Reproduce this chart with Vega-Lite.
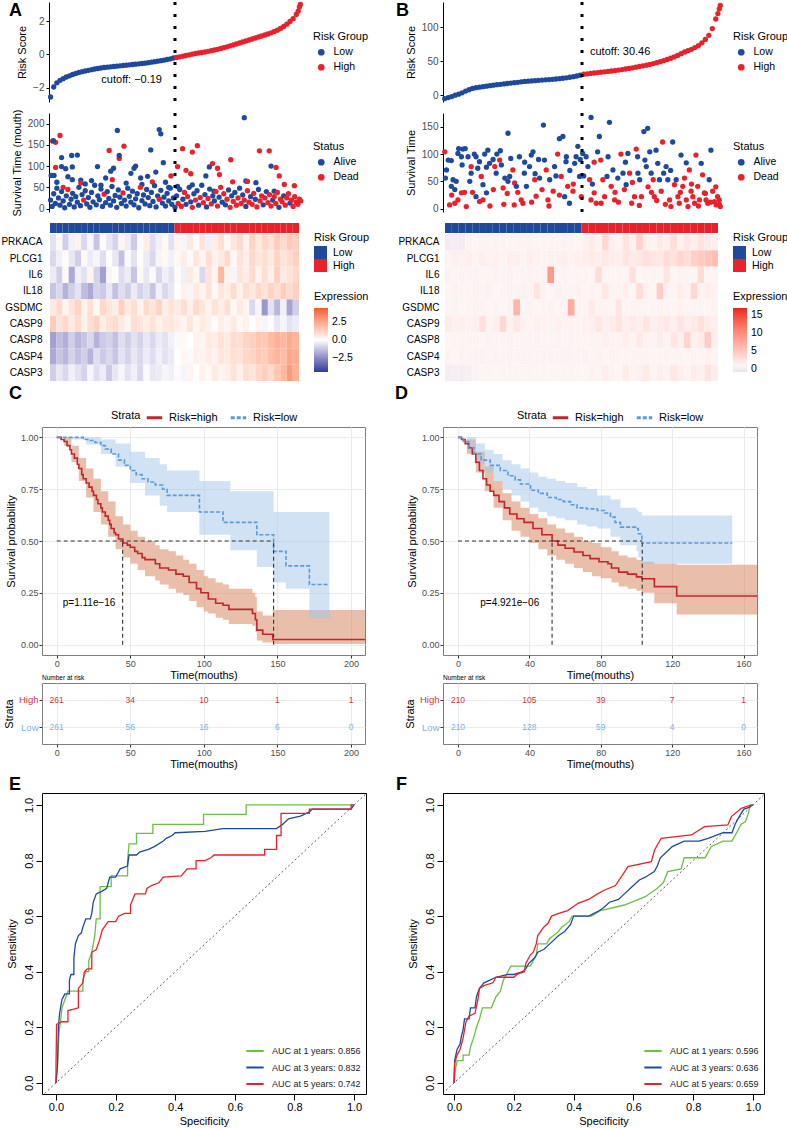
{
"$schema":"https://vega.github.io/schema/vega-lite/v6.json",
"padding":{"left":0,"top":0,"right":0,"bottom":0},
"background":"white",
"config":{
 "font":"Liberation Sans",
 "view":{"stroke":null},
 "axis":{"labelFont":"Liberation Sans","titleFont":"Liberation Sans","titleFontWeight":"normal","titleColor":"black","labelColor":"#4D4D4D","domainColor":"black","tickColor":"#333333","grid":false},
 "legend":{"labelFont":"Liberation Sans","titleFont":"Liberation Sans","titleFontWeight":"normal","titleColor":"black","labelColor":"black","padding":0},
 "title":{"font":"Liberation Sans","color":"black"}
},
"datasets":{
 "riskA":[
  {"r":1,"s":-2.55,"g":"Low"},{"r":2,"s":-1.95,"g":"Low"},{"r":3,"s":-1.7,"g":"Low"},{"r":4,"s":-1.55,"g":"Low"},{"r":5,"s":-1.45,"g":"Low"},{"r":6,"s":-1.35,"g":"Low"},{"r":7,"s":-1.28,"g":"Low"},{"r":8,"s":-1.2,"g":"Low"},{"r":9,"s":-1.14,"g":"Low"},{"r":10,"s":-1.08,"g":"Low"},
  {"r":11,"s":-1.03,"g":"Low"},{"r":12,"s":-0.99,"g":"Low"},{"r":13,"s":-0.95,"g":"Low"},{"r":14,"s":-0.91,"g":"Low"},{"r":15,"s":-0.87,"g":"Low"},{"r":16,"s":-0.84,"g":"Low"},{"r":17,"s":-0.81,"g":"Low"},{"r":18,"s":-0.78,"g":"Low"},{"r":19,"s":-0.76,"g":"Low"},{"r":20,"s":-0.74,"g":"Low"},
  {"r":21,"s":-0.72,"g":"Low"},{"r":22,"s":-0.7,"g":"Low"},{"r":23,"s":-0.68,"g":"Low"},{"r":24,"s":-0.66,"g":"Low"},{"r":25,"s":-0.64,"g":"Low"},{"r":26,"s":-0.62,"g":"Low"},{"r":27,"s":-0.6,"g":"Low"},{"r":28,"s":-0.58,"g":"Low"},{"r":29,"s":-0.56,"g":"Low"},{"r":30,"s":-0.54,"g":"Low"},
  {"r":31,"s":-0.52,"g":"Low"},{"r":32,"s":-0.49,"g":"Low"},{"r":33,"s":-0.46,"g":"Low"},{"r":34,"s":-0.43,"g":"Low"},{"r":35,"s":-0.4,"g":"Low"},{"r":36,"s":-0.37,"g":"Low"},{"r":37,"s":-0.34,"g":"Low"},{"r":38,"s":-0.3,"g":"Low"},{"r":39,"s":-0.26,"g":"Low"},{"r":40,"s":-0.21,"g":"Low"},
  {"r":41,"s":-0.18,"g":"High"},{"r":42,"s":-0.14,"g":"High"},{"r":43,"s":-0.1,"g":"High"},{"r":44,"s":-0.06,"g":"High"},{"r":45,"s":-0.02,"g":"High"},{"r":46,"s":0.02,"g":"High"},{"r":47,"s":0.06,"g":"High"},{"r":48,"s":0.09,"g":"High"},{"r":49,"s":0.12,"g":"High"},{"r":50,"s":0.15,"g":"High"},
  {"r":51,"s":0.19,"g":"High"},{"r":52,"s":0.23,"g":"High"},{"r":53,"s":0.27,"g":"High"},{"r":54,"s":0.31,"g":"High"},{"r":55,"s":0.36,"g":"High"},{"r":56,"s":0.41,"g":"High"},{"r":57,"s":0.46,"g":"High"},{"r":58,"s":0.52,"g":"High"},{"r":59,"s":0.57,"g":"High"},{"r":60,"s":0.63,"g":"High"},
  {"r":61,"s":0.69,"g":"High"},{"r":62,"s":0.75,"g":"High"},{"r":63,"s":0.81,"g":"High"},{"r":64,"s":0.87,"g":"High"},{"r":65,"s":0.93,"g":"High"},{"r":66,"s":0.99,"g":"High"},{"r":67,"s":1.05,"g":"High"},{"r":68,"s":1.11,"g":"High"},{"r":69,"s":1.17,"g":"High"},{"r":70,"s":1.23,"g":"High"},
  {"r":71,"s":1.3,"g":"High"},{"r":72,"s":1.38,"g":"High"},{"r":73,"s":1.46,"g":"High"},{"r":74,"s":1.56,"g":"High"},{"r":75,"s":1.68,"g":"High"},{"r":76,"s":1.82,"g":"High"},{"r":77,"s":1.98,"g":"High"},{"r":78,"s":2.15,"g":"High"},{"r":79,"s":2.4,"g":"High"},{"r":80,"s":2.85,"g":"High"},
  {"r":79.6,"s":2.6,"g":"High"},{"r":80.3,"s":3.0,"g":"High"}
 ],
 "riskB":[
  {"r":1,"s":-5,"g":"Low"},{"r":2,"s":-3.5,"g":"Low"},{"r":3,"s":-2,"g":"Low"},{"r":4,"s":0,"g":"Low"},{"r":5,"s":1.5,"g":"Low"},{"r":6,"s":3.5,"g":"Low"},{"r":7,"s":6,"g":"Low"},{"r":8,"s":8,"g":"Low"},{"r":9,"s":10,"g":"Low"},{"r":10,"s":11,"g":"Low"},
  {"r":11,"s":11.8,"g":"Low"},{"r":12,"s":12.5,"g":"Low"},{"r":13,"s":13.2,"g":"Low"},{"r":14,"s":14,"g":"Low"},{"r":15,"s":14.7,"g":"Low"},{"r":16,"s":15.4,"g":"Low"},{"r":17,"s":16,"g":"Low"},{"r":18,"s":16.6,"g":"Low"},{"r":19,"s":17.2,"g":"Low"},{"r":20,"s":17.8,"g":"Low"},
  {"r":21,"s":18.4,"g":"Low"},{"r":22,"s":19,"g":"Low"},{"r":23,"s":19.6,"g":"Low"},{"r":24,"s":20.2,"g":"Low"},{"r":25,"s":20.6,"g":"Low"},{"r":26,"s":21,"g":"Low"},{"r":27,"s":21.4,"g":"Low"},{"r":28,"s":21.8,"g":"Low"},{"r":29,"s":22.2,"g":"Low"},{"r":30,"s":22.6,"g":"Low"},
  {"r":31,"s":23,"g":"Low"},{"r":32,"s":23.4,"g":"Low"},{"r":33,"s":23.8,"g":"Low"},{"r":34,"s":24.3,"g":"Low"},{"r":35,"s":24.9,"g":"Low"},{"r":36,"s":25.6,"g":"Low"},{"r":37,"s":26.4,"g":"Low"},{"r":38,"s":27.2,"g":"Low"},{"r":39,"s":28.2,"g":"Low"},{"r":40,"s":29.5,"g":"Low"},
  {"r":41,"s":30.8,"g":"High"},{"r":42,"s":31.4,"g":"High"},{"r":43,"s":32,"g":"High"},{"r":44,"s":32.6,"g":"High"},{"r":45,"s":33.2,"g":"High"},{"r":46,"s":33.8,"g":"High"},{"r":47,"s":34.4,"g":"High"},{"r":48,"s":35,"g":"High"},{"r":49,"s":35.6,"g":"High"},{"r":50,"s":36.2,"g":"High"},
  {"r":51,"s":36.9,"g":"High"},{"r":52,"s":37.7,"g":"High"},{"r":53,"s":38.5,"g":"High"},{"r":54,"s":39.4,"g":"High"},{"r":55,"s":40.3,"g":"High"},{"r":56,"s":41.2,"g":"High"},{"r":57,"s":42.2,"g":"High"},{"r":58,"s":43.2,"g":"High"},{"r":59,"s":44.2,"g":"High"},{"r":60,"s":45.3,"g":"High"},
  {"r":61,"s":46.5,"g":"High"},{"r":62,"s":47.8,"g":"High"},{"r":63,"s":49.2,"g":"High"},{"r":64,"s":50.8,"g":"High"},{"r":65,"s":52.5,"g":"High"},{"r":66,"s":54.3,"g":"High"},{"r":67,"s":56.3,"g":"High"},{"r":68,"s":58.5,"g":"High"},{"r":69,"s":61,"g":"High"},{"r":70,"s":63.5,"g":"High"},
  {"r":71,"s":65.5,"g":"High"},{"r":72,"s":67.5,"g":"High"},{"r":73,"s":70,"g":"High"},{"r":74,"s":73,"g":"High"},{"r":75,"s":77,"g":"High"},{"r":76,"s":82,"g":"High"},{"r":77,"s":88,"g":"High"},{"r":78,"s":98,"g":"High"},{"r":79,"s":112,"g":"High"},{"r":80,"s":127,"g":"High"},
  {"r":80.3,"s":132,"g":"High"},{"r":79.6,"s":120,"g":"High"}
 ],
 "survA":[
  {"r":1.6,"t":159,"s":"Dead"},{"r":2.6,"t":156,"s":"Dead"},{"r":4,"t":172,"s":"Dead"},{"r":2.6,"t":97,"s":"Dead"},{"r":1.9,"t":160,"s":"Alive"},{"r":4.5,"t":120,"s":"Alive"},{"r":1.2,"t":78,"s":"Alive"},{"r":2.1,"t":78,"s":"Alive"},{"r":4.5,"t":99,"s":"Alive"},{"r":7.7,"t":125,"s":"Alive"},
  {"r":9.5,"t":126,"s":"Alive"},{"r":7.9,"t":98,"s":"Alive"},{"r":5.8,"t":94,"s":"Alive"},{"r":7.9,"t":68,"s":"Alive"},{"r":10.6,"t":67,"s":"Alive"},{"r":10.6,"t":60,"s":"Dead"},{"r":5,"t":50,"s":"Dead"},{"r":15.9,"t":99,"s":"Alive"},{"r":19.6,"t":137,"s":"Dead"},{"r":22.8,"t":118,"s":"Dead"},
  {"r":22.2,"t":184,"s":"Alive"},{"r":22.8,"t":125,"s":"Alive"},{"r":21,"t":95,"s":"Alive"},{"r":20.1,"t":88,"s":"Alive"},{"r":20.6,"t":68,"s":"Dead"},{"r":24.3,"t":147,"s":"Dead"},{"r":27.5,"t":95,"s":"Alive"},{"r":28,"t":100,"s":"Alive"},{"r":29.6,"t":72,"s":"Alive"},{"r":31.8,"t":76,"s":"Alive"},
  {"r":32.8,"t":138,"s":"Alive"},{"r":33.3,"t":63,"s":"Dead"},{"r":34.4,"t":86,"s":"Alive"},{"r":35.5,"t":186,"s":"Alive"},{"r":36,"t":176,"s":"Alive"},{"r":36.8,"t":108,"s":"Alive"},{"r":39.2,"t":77,"s":"Dead"},{"r":41.3,"t":99,"s":"Dead"},{"r":42.9,"t":141,"s":"Dead"},{"r":41.3,"t":52,"s":"Alive"},
  {"r":44,"t":90,"s":"Dead"},{"r":45.5,"t":82,"s":"Dead"},{"r":46,"t":133,"s":"Dead"},{"r":47.6,"t":148,"s":"Dead"},{"r":46,"t":56,"s":"Alive"},{"r":50.3,"t":77,"s":"Alive"},{"r":51.4,"t":98,"s":"Alive"},{"r":52.4,"t":106,"s":"Dead"},{"r":54,"t":95,"s":"Dead"},{"r":54.6,"t":80,"s":"Dead"},
  {"r":52.9,"t":41,"s":"Alive"},{"r":58.2,"t":115,"s":"Dead"},{"r":58.8,"t":63,"s":"Dead"},{"r":62.5,"t":214,"s":"Alive"},{"r":63,"t":65,"s":"Alive"},{"r":63.5,"t":64,"s":"Dead"},{"r":66.2,"t":61,"s":"Alive"},{"r":67.3,"t":136,"s":"Dead"},{"r":70.4,"t":136,"s":"Dead"},{"r":71,"t":100,"s":"Alive"},
  {"r":72.6,"t":97,"s":"Dead"},{"r":73.6,"t":77,"s":"Dead"},{"r":75.2,"t":57,"s":"Dead"},{"r":78.4,"t":54,"s":"Dead"},{"r":72,"t":41,"s":"Alive"},
  {"r":3,"t":62,"s":"Alive"},{"r":6.5,"t":75,"s":"Alive"},{"r":12,"t":58,"s":"Alive"},{"r":14,"t":66,"s":"Alive"},{"r":17,"t":55,"s":"Alive"},{"r":18.5,"t":72,"s":"Alive"},{"r":25,"t":60,"s":"Alive"},{"r":26.5,"t":83,"s":"Alive"},{"r":30,"t":57,"s":"Alive"},{"r":37.5,"t":62,"s":"Alive"},{"r":38.5,"t":50,"s":"Alive"},
  {"r":1,"t":20,"s":"Alive"},{"r":1.5,"t":5,"s":"Alive"},{"r":2,"t":35,"s":"Alive"},{"r":2.5,"t":12,"s":"Alive"},{"r":3,"t":48,"s":"Alive"},{"r":3.5,"t":25,"s":"Alive"},{"r":4,"t":8,"s":"Alive"},{"r":4.5,"t":40,"s":"Alive"},{"r":5,"t":18,"s":"Alive"},{"r":5.5,"t":2,"s":"Alive"},
  {"r":6,"t":30,"s":"Alive"},{"r":6.5,"t":45,"s":"Dead"},{"r":7,"t":10,"s":"Alive"},{"r":7.5,"t":22,"s":"Alive"},{"r":8,"t":36,"s":"Alive"},{"r":8.5,"t":4,"s":"Alive"},{"r":9,"t":28,"s":"Alive"},{"r":9.5,"t":15,"s":"Alive"},{"r":10,"t":50,"s":"Alive"},{"r":10.5,"t":7,"s":"Alive"},
  {"r":11,"t":33,"s":"Alive"},{"r":11.5,"t":20,"s":"Dead"},{"r":12,"t":42,"s":"Alive"},{"r":12.5,"t":11,"s":"Alive"},{"r":13,"t":26,"s":"Alive"},{"r":13.5,"t":3,"s":"Alive"},{"r":14,"t":38,"s":"Alive"},{"r":14.5,"t":16,"s":"Alive"},{"r":15,"t":55,"s":"Alive"},{"r":15.5,"t":9,"s":"Alive"},
  {"r":16,"t":30,"s":"Alive"},{"r":16.5,"t":21,"s":"Alive"},{"r":17,"t":46,"s":"Alive"},{"r":17.5,"t":5,"s":"Alive"},{"r":18,"t":34,"s":"Dead"},{"r":18.5,"t":14,"s":"Alive"},{"r":19,"t":40,"s":"Alive"},{"r":19.5,"t":24,"s":"Alive"},{"r":20,"t":8,"s":"Alive"},{"r":20.5,"t":52,"s":"Alive"},
  {"r":21,"t":18,"s":"Alive"},{"r":21.5,"t":31,"s":"Alive"},{"r":22,"t":3,"s":"Alive"},{"r":22.5,"t":44,"s":"Alive"},{"r":23,"t":27,"s":"Alive"},{"r":23.5,"t":12,"s":"Alive"},{"r":24,"t":37,"s":"Dead"},{"r":24.5,"t":20,"s":"Alive"},{"r":25,"t":6,"s":"Alive"},{"r":25.5,"t":48,"s":"Alive"},
  {"r":26,"t":29,"s":"Alive"},{"r":26.5,"t":15,"s":"Alive"},{"r":27,"t":41,"s":"Alive"},{"r":27.5,"t":9,"s":"Alive"},{"r":28,"t":23,"s":"Alive"},{"r":28.5,"t":35,"s":"Alive"},{"r":29,"t":2,"s":"Alive"},{"r":29.5,"t":50,"s":"Dead"},{"r":30,"t":19,"s":"Alive"},{"r":30.5,"t":32,"s":"Alive"},
  {"r":31,"t":11,"s":"Alive"},{"r":31.5,"t":45,"s":"Alive"},{"r":32,"t":26,"s":"Alive"},{"r":32.5,"t":7,"s":"Alive"},{"r":33,"t":38,"s":"Alive"},{"r":33.5,"t":17,"s":"Alive"},{"r":34,"t":54,"s":"Alive"},{"r":34.5,"t":4,"s":"Alive"},{"r":35,"t":30,"s":"Alive"},{"r":35.5,"t":22,"s":"Dead"},
  {"r":36,"t":43,"s":"Alive"},{"r":36.5,"t":13,"s":"Alive"},{"r":37,"t":27,"s":"Alive"},{"r":37.5,"t":6,"s":"Alive"},{"r":38,"t":36,"s":"Alive"},{"r":38.5,"t":18,"s":"Alive"},{"r":39,"t":48,"s":"Alive"},{"r":39.5,"t":10,"s":"Alive"},{"r":40,"t":25,"s":"Alive"},{"r":40.5,"t":3,"s":"Alive"},
  {"r":41,"t":30,"s":"Alive"},{"r":41.5,"t":12,"s":"Dead"},{"r":42,"t":45,"s":"Alive"},{"r":42.5,"t":5,"s":"Dead"},{"r":43,"t":22,"s":"Alive"},{"r":43.5,"t":38,"s":"Dead"},{"r":44,"t":10,"s":"Alive"},{"r":44.5,"t":28,"s":"Dead"},{"r":45,"t":50,"s":"Alive"},{"r":45.5,"t":16,"s":"Alive"},
  {"r":46,"t":3,"s":"Dead"},{"r":46.5,"t":35,"s":"Alive"},{"r":47,"t":20,"s":"Dead"},{"r":47.5,"t":42,"s":"Alive"},{"r":48,"t":8,"s":"Alive"},{"r":48.5,"t":26,"s":"Dead"},{"r":49,"t":55,"s":"Alive"},{"r":49.5,"t":14,"s":"Dead"},{"r":50,"t":33,"s":"Alive"},{"r":50.5,"t":4,"s":"Alive"},
  {"r":51,"t":24,"s":"Dead"},{"r":51.5,"t":46,"s":"Alive"},{"r":52,"t":11,"s":"Dead"},{"r":52.5,"t":30,"s":"Alive"},{"r":53,"t":18,"s":"Alive"},{"r":53.5,"t":40,"s":"Dead"},{"r":54,"t":6,"s":"Dead"},{"r":54.5,"t":27,"s":"Alive"},{"r":55,"t":50,"s":"Dead"},{"r":55.5,"t":15,"s":"Alive"},
  {"r":56,"t":35,"s":"Dead"},{"r":56.5,"t":9,"s":"Alive"},{"r":57,"t":22,"s":"Dead"},{"r":57.5,"t":44,"s":"Alive"},{"r":58,"t":3,"s":"Dead"},{"r":58.5,"t":30,"s":"Alive"},{"r":59,"t":17,"s":"Dead"},{"r":59.5,"t":38,"s":"Alive"},{"r":60,"t":8,"s":"Dead"},{"r":60.5,"t":25,"s":"Dead"},
  {"r":61,"t":48,"s":"Alive"},{"r":61.5,"t":12,"s":"Dead"},{"r":62,"t":32,"s":"Alive"},{"r":62.5,"t":20,"s":"Dead"},{"r":63,"t":5,"s":"Alive"},{"r":63.5,"t":42,"s":"Dead"},{"r":64,"t":15,"s":"Dead"},{"r":64.5,"t":28,"s":"Alive"},{"r":65,"t":10,"s":"Dead"},{"r":65.5,"t":36,"s":"Dead"},
  {"r":66,"t":22,"s":"Alive"},{"r":66.5,"t":4,"s":"Dead"},{"r":67,"t":45,"s":"Alive"},{"r":67.5,"t":18,"s":"Dead"},{"r":68,"t":30,"s":"Dead"},{"r":68.5,"t":9,"s":"Alive"},{"r":69,"t":25,"s":"Dead"},{"r":69.5,"t":40,"s":"Alive"},{"r":70,"t":14,"s":"Dead"},{"r":70.5,"t":33,"s":"Dead"},
  {"r":71,"t":6,"s":"Dead"},{"r":71.5,"t":20,"s":"Alive"},{"r":72,"t":28,"s":"Dead"},{"r":72.5,"t":12,"s":"Dead"},{"r":73,"t":38,"s":"Dead"},{"r":73.5,"t":3,"s":"Alive"},{"r":74,"t":22,"s":"Dead"},{"r":74.5,"t":16,"s":"Dead"},{"r":75,"t":30,"s":"Alive"},{"r":75.5,"t":8,"s":"Dead"},
  {"r":76,"t":25,"s":"Dead"},{"r":76.5,"t":35,"s":"Dead"},{"r":77,"t":13,"s":"Alive"},{"r":77.5,"t":20,"s":"Dead"},{"r":78,"t":5,"s":"Dead"},{"r":78.5,"t":28,"s":"Dead"},{"r":79,"t":15,"s":"Dead"},{"r":79.5,"t":10,"s":"Dead"},{"r":80,"t":22,"s":"Dead"},{"r":80.4,"t":18,"s":"Dead"}
 ],
 "survB":[
  {"r":1,"t":104,"s":"Dead"},{"r":1.5,"t":71,"s":"Alive"},{"r":2,"t":89,"s":"Alive"},{"r":2.9,"t":88,"s":"Alive"},{"r":3.4,"t":53,"s":"Alive"},{"r":4.3,"t":50,"s":"Alive"},{"r":4.8,"t":101,"s":"Alive"},{"r":5.8,"t":95,"s":"Alive"},{"r":6.2,"t":109,"s":"Alive"},{"r":6.9,"t":110,"s":"Alive"},
  {"r":7.7,"t":95,"s":"Alive"},{"r":2.4,"t":7,"s":"Dead"},{"r":3.9,"t":10,"s":"Dead"},{"r":4.8,"t":16,"s":"Dead"},{"r":5.8,"t":29,"s":"Dead"},{"r":6.7,"t":30,"s":"Dead"},{"r":3.9,"t":35,"s":"Alive"},{"r":7.2,"t":4,"s":"Dead"},{"r":2.9,"t":41,"s":"Alive"},{"r":8.6,"t":65,"s":"Alive"},
  {"r":8.2,"t":50,"s":"Alive"},{"r":10,"t":95,"s":"Alive"},{"r":10.5,"t":74,"s":"Alive"},{"r":11,"t":86,"s":"Alive"},{"r":8.6,"t":77,"s":"Dead"},{"r":11.5,"t":59,"s":"Dead"},{"r":12,"t":44,"s":"Alive"},{"r":10,"t":22,"s":"Alive"},{"r":11,"t":13,"s":"Dead"},{"r":12,"t":16,"s":"Dead"},
  {"r":13,"t":29,"s":"Alive"},{"r":13.4,"t":107,"s":"Alive"},{"r":13.9,"t":83,"s":"Alive"},{"r":14.9,"t":90,"s":"Alive"},{"r":15.4,"t":77,"s":"Dead"},{"r":15.8,"t":65,"s":"Alive"},{"r":16.8,"t":89,"s":"Dead"},{"r":17.3,"t":80,"s":"Alive"},{"r":17.8,"t":38,"s":"Dead"},{"r":18.3,"t":56,"s":"Alive"},
  {"r":19.2,"t":50,"s":"Alive"},{"r":19.2,"t":138,"s":"Alive"},{"r":19.7,"t":59,"s":"Alive"},{"r":20.6,"t":71,"s":"Dead"},{"r":21.1,"t":47,"s":"Dead"},{"r":21.6,"t":41,"s":"Alive"},{"r":22.5,"t":95,"s":"Alive"},{"r":23,"t":16,"s":"Dead"},{"r":23.5,"t":10,"s":"Dead"},{"r":23.9,"t":65,"s":"Alive"},
  {"r":24.5,"t":41,"s":"Alive"},{"r":25.4,"t":77,"s":"Alive"},{"r":25.9,"t":98,"s":"Alive"},{"r":26.4,"t":104,"s":"Alive"},{"r":26.9,"t":53,"s":"Dead"},{"r":27.3,"t":23,"s":"Dead"},{"r":28.3,"t":56,"s":"Alive"},{"r":29.4,"t":153,"s":"Alive"},{"r":29.7,"t":89,"s":"Alive"},{"r":30.2,"t":71,"s":"Dead"},
  {"r":30.7,"t":16,"s":"Dead"},{"r":31.2,"t":53,"s":"Alive"},{"r":32.2,"t":32,"s":"Dead"},{"r":32.6,"t":77,"s":"Alive"},{"r":33.5,"t":100,"s":"Dead"},{"r":34,"t":128,"s":"Alive"},{"r":35,"t":132,"s":"Alive"},{"r":34.5,"t":59,"s":"Dead"},{"r":35.5,"t":22,"s":"Alive"},{"r":35.9,"t":86,"s":"Alive"},
  {"r":36.4,"t":41,"s":"Dead"},{"r":36.9,"t":10,"s":"Alive"},{"r":37.9,"t":32,"s":"Dead"},{"r":38.4,"t":83,"s":"Alive"},{"r":38.8,"t":95,"s":"Alive"},{"r":39.3,"t":114,"s":"Alive"},{"r":39.8,"t":59,"s":"Alive"},{"r":40.3,"t":22,"s":"Dead"},
  {"r":1.2,"t":56,"s":"Alive"},{"r":5,"t":110,"s":"Alive"},{"r":9,"t":30,"s":"Dead"},{"r":9.5,"t":100,"s":"Alive"},{"r":14,"t":5,"s":"Dead"},{"r":16,"t":100,"s":"Alive"},{"r":18,"t":8,"s":"Dead"},{"r":20,"t":92,"s":"Alive"},{"r":22,"t":30,"s":"Dead"},{"r":24,"t":85,"s":"Alive"},
  {"r":26,"t":12,"s":"Dead"},{"r":28,"t":90,"s":"Alive"},{"r":29,"t":35,"s":"Dead"},{"r":31,"t":5,"s":"Dead"},{"r":33,"t":60,"s":"Alive"},{"r":34,"t":25,"s":"Dead"},{"r":37,"t":70,"s":"Alive"},{"r":38,"t":45,"s":"Dead"},{"r":40,"t":90,"s":"Alive"},{"r":3,"t":25,"s":"Dead"},
  {"r":6,"t":80,"s":"Alive"},{"r":12.5,"t":100,"s":"Alive"},{"r":15,"t":35,"s":"Dead"},{"r":19,"t":28,"s":"Dead"},{"r":27,"t":64,"s":"Alive"},{"r":36,"t":95,"s":"Alive"},{"r":21,"t":7,"s":"Dead"},{"r":13,"t":76,"s":"Alive"},{"r":17,"t":106,"s":"Alive"},
  {"r":40.7,"t":101,"s":"Alive"},{"r":41.7,"t":95,"s":"Alive"},{"r":42.2,"t":77,"s":"Alive"},{"r":43.1,"t":167,"s":"Alive"},{"r":42.7,"t":53,"s":"Dead"},{"r":43.1,"t":16,"s":"Dead"},{"r":44,"t":29,"s":"Dead"},{"r":44.6,"t":10,"s":"Dead"},{"r":45.5,"t":132,"s":"Alive"},{"r":45,"t":104,"s":"Alive"},
  {"r":45.9,"t":89,"s":"Dead"},{"r":46.5,"t":53,"s":"Dead"},{"r":47,"t":22,"s":"Dead"},{"r":47.7,"t":59,"s":"Alive"},{"r":48.4,"t":158,"s":"Alive"},{"r":48.9,"t":41,"s":"Dead"},{"r":49.4,"t":71,"s":"Alive"},{"r":49.9,"t":16,"s":"Dead"},{"r":50.8,"t":56,"s":"Alive"},{"r":51.7,"t":100,"s":"Dead"},
  {"r":52.3,"t":65,"s":"Alive"},{"r":52.7,"t":35,"s":"Dead"},{"r":53.2,"t":44,"s":"Alive"},{"r":53.7,"t":101,"s":"Alive"},{"r":54.2,"t":65,"s":"Dead"},{"r":54.8,"t":10,"s":"Dead"},{"r":55.6,"t":22,"s":"Dead"},{"r":56.1,"t":109,"s":"Dead"},{"r":56.6,"t":65,"s":"Alive"},{"r":57.1,"t":53,"s":"Alive"},
  {"r":57.6,"t":22,"s":"Dead"},{"r":58.3,"t":141,"s":"Alive"},{"r":58.6,"t":89,"s":"Alive"},{"r":59,"t":77,"s":"Alive"},{"r":59.4,"t":147,"s":"Alive"},{"r":60,"t":104,"s":"Alive"},{"r":60.4,"t":65,"s":"Alive"},{"r":61,"t":53,"s":"Dead"},{"r":61.3,"t":22,"s":"Dead"},{"r":61.8,"t":107,"s":"Alive"},
  {"r":62.3,"t":83,"s":"Alive"},{"r":62.8,"t":53,"s":"Alive"},{"r":63.3,"t":32,"s":"Dead"},{"r":63.7,"t":122,"s":"Dead"},{"r":64,"t":65,"s":"Alive"},{"r":64.7,"t":77,"s":"Alive"},{"r":65.2,"t":53,"s":"Alive"},{"r":65.7,"t":16,"s":"Dead"},{"r":66.1,"t":4,"s":"Dead"},{"r":66.6,"t":122,"s":"Alive"},
  {"r":67.1,"t":44,"s":"Dead"},{"r":67.6,"t":53,"s":"Alive"},{"r":68.1,"t":22,"s":"Dead"},{"r":68.5,"t":10,"s":"Dead"},{"r":69,"t":98,"s":"Alive"},{"r":69.5,"t":41,"s":"Dead"},{"r":70,"t":56,"s":"Dead"},{"r":70.5,"t":16,"s":"Dead"},{"r":71,"t":4,"s":"Dead"},{"r":71.4,"t":71,"s":"Dead"},
  {"r":71.9,"t":32,"s":"Dead"},{"r":72.4,"t":22,"s":"Dead"},{"r":72.9,"t":10,"s":"Dead"},{"r":73.3,"t":98,"s":"Dead"},{"r":73.8,"t":41,"s":"Dead"},{"r":74.3,"t":16,"s":"Dead"},{"r":74.8,"t":83,"s":"Alive"},{"r":75.2,"t":62,"s":"Dead"},{"r":75.7,"t":29,"s":"Dead"},{"r":76.2,"t":16,"s":"Dead"},
  {"r":76.7,"t":10,"s":"Dead"},{"r":77.1,"t":53,"s":"Alive"},{"r":77.6,"t":107,"s":"Alive"},{"r":78.1,"t":32,"s":"Dead"},{"r":78.6,"t":13,"s":"Dead"},{"r":79.1,"t":7,"s":"Dead"},{"r":79.5,"t":22,"s":"Dead"},{"r":80,"t":16,"s":"Dead"},{"r":80.3,"t":4,"s":"Dead"},
  {"r":41,"t":60,"s":"Alive"},{"r":43.5,"t":45,"s":"Alive"},{"r":44,"t":85,"s":"Dead"},{"r":46,"t":10,"s":"Dead"},{"r":48,"t":95,"s":"Alive"},{"r":50,"t":30,"s":"Dead"},{"r":51,"t":12,"s":"Dead"},{"r":53,"t":85,"s":"Alive"},{"r":55,"t":48,"s":"Dead"},{"r":57,"t":6,"s":"Dead"},
  {"r":59.5,"t":40,"s":"Dead"},{"r":62,"t":15,"s":"Dead"},{"r":64.5,"t":8,"s":"Dead"},{"r":66,"t":70,"s":"Alive"},{"r":68.8,"t":30,"s":"Dead"},{"r":70.5,"t":84,"s":"Alive"},{"r":72,"t":45,"s":"Dead"},{"r":74,"t":5,"s":"Dead"},{"r":76,"t":28,"s":"Dead"},{"r":77.5,"t":12,"s":"Dead"},
  {"r":79,"t":40,"s":"Dead"},{"r":80,"t":8,"s":"Dead"},{"r":60.5,"t":30,"s":"Dead"},{"r":56.5,"t":95,"s":"Alive"}
 ],
 "heatA":[
  {"i":1,"g":"Low","PRKACA":-0.6,"PLCG1":-0.8,"IL6":-0.4,"IL18":-1.2,"GSDMC":0.6,"CASP9":1.4,"CASP8":-2.0,"CASP4":-1.8,"CASP3":-1.0},
  {"i":2,"g":"Low","PRKACA":0.2,"PLCG1":-0.3,"IL6":-1.0,"IL18":-0.8,"GSDMC":1.0,"CASP9":0.8,"CASP8":-1.4,"CASP4":-1.2,"CASP3":-0.5},
  {"i":3,"g":"Low","PRKACA":-1.0,"PLCG1":0.1,"IL6":0.2,"IL18":-1.6,"GSDMC":0.3,"CASP9":1.1,"CASP8":-1.7,"CASP4":-1.5,"CASP3":-0.8},
  {"i":4,"g":"Low","PRKACA":-0.3,"PLCG1":-0.5,"IL6":-1.8,"IL18":-1.0,"GSDMC":0.8,"CASP9":0.6,"CASP8":-1.0,"CASP4":-0.9,"CASP3":-0.3},
  {"i":5,"g":"Low","PRKACA":0.4,"PLCG1":-1.0,"IL6":-0.3,"IL18":-0.6,"GSDMC":1.2,"CASP9":1.0,"CASP8":-1.5,"CASP4":-1.3,"CASP3":-0.6},
  {"i":6,"g":"Low","PRKACA":-0.8,"PLCG1":0.2,"IL6":-0.6,"IL18":-1.4,"GSDMC":0.4,"CASP9":0.4,"CASP8":-1.2,"CASP4":-1.0,"CASP3":-0.9},
  {"i":7,"g":"Low","PRKACA":-0.2,"PLCG1":-0.4,"IL6":0.3,"IL18":-1.8,"GSDMC":0.9,"CASP9":0.9,"CASP8":-0.8,"CASP4":-1.6,"CASP3":-0.2},
  {"i":8,"g":"Low","PRKACA":-1.2,"PLCG1":-0.2,"IL6":-0.9,"IL18":-0.9,"GSDMC":0.2,"CASP9":1.2,"CASP8":-1.6,"CASP4":-0.7,"CASP3":-0.7},
  {"i":9,"g":"Low","PRKACA":0.1,"PLCG1":-0.7,"IL6":-2.0,"IL18":-1.1,"GSDMC":1.1,"CASP9":0.5,"CASP8":-1.1,"CASP4":-1.1,"CASP3":-0.4},
  {"i":10,"g":"Low","PRKACA":-0.5,"PLCG1":0.0,"IL6":-0.2,"IL18":-0.5,"GSDMC":0.7,"CASP9":0.8,"CASP8":-0.9,"CASP4":-0.8,"CASP3":-1.1},
  {"i":11,"g":"Low","PRKACA":-0.9,"PLCG1":-0.5,"IL6":0.1,"IL18":-1.3,"GSDMC":0.5,"CASP9":1.0,"CASP8":-1.3,"CASP4":-1.2,"CASP3":-0.5},
  {"i":12,"g":"Low","PRKACA":0.3,"PLCG1":-1.3,"IL6":-0.7,"IL18":-0.7,"GSDMC":1.3,"CASP9":0.6,"CASP8":-0.7,"CASP4":-0.6,"CASP3":-0.2},
  {"i":13,"g":"Low","PRKACA":-0.4,"PLCG1":-0.1,"IL6":-0.4,"IL18":-1.0,"GSDMC":0.6,"CASP9":0.3,"CASP8":-1.0,"CASP4":-0.9,"CASP3":-0.6},
  {"i":14,"g":"Low","PRKACA":-1.1,"PLCG1":-0.6,"IL6":-1.2,"IL18":-0.4,"GSDMC":0.9,"CASP9":0.9,"CASP8":-0.6,"CASP4":-0.5,"CASP3":-0.3},
  {"i":15,"g":"Low","PRKACA":-0.1,"PLCG1":0.1,"IL6":0.2,"IL18":-0.9,"GSDMC":0.3,"CASP9":0.7,"CASP8":-0.9,"CASP4":-0.8,"CASP3":-0.8},
  {"i":16,"g":"Low","PRKACA":0.5,"PLCG1":-0.4,"IL6":-0.5,"IL18":-0.6,"GSDMC":1.0,"CASP9":0.5,"CASP8":-0.5,"CASP4":-0.4,"CASP3":-0.1},
  {"i":17,"g":"Low","PRKACA":-0.7,"PLCG1":-0.8,"IL6":-0.1,"IL18":-1.2,"GSDMC":0.7,"CASP9":0.8,"CASP8":-0.8,"CASP4":-0.7,"CASP3":-0.5},
  {"i":18,"g":"Low","PRKACA":-0.3,"PLCG1":-0.2,"IL6":-0.8,"IL18":-0.3,"GSDMC":1.2,"CASP9":0.4,"CASP8":-0.4,"CASP4":-0.3,"CASP3":-0.4},
  {"i":19,"g":"Low","PRKACA":0.2,"PLCG1":0.2,"IL6":-0.3,"IL18":-0.8,"GSDMC":0.5,"CASP9":0.6,"CASP8":-0.6,"CASP4":-0.6,"CASP3":-0.2},
  {"i":20,"g":"Low","PRKACA":-0.6,"PLCG1":-0.3,"IL6":-0.6,"IL18":-0.5,"GSDMC":0.8,"CASP9":0.7,"CASP8":-0.3,"CASP4":-0.4,"CASP3":-0.3},
  {"i":21,"g":"High","PRKACA":0.3,"PLCG1":0.2,"IL6":0.1,"IL18":0.0,"GSDMC":0.6,"CASP9":0.5,"CASP8":-0.1,"CASP4":0.0,"CASP3":0.1},
  {"i":22,"g":"High","PRKACA":-0.2,"PLCG1":0.5,"IL6":-0.3,"IL18":0.4,"GSDMC":0.9,"CASP9":0.3,"CASP8":0.2,"CASP4":0.2,"CASP3":-0.2},
  {"i":23,"g":"High","PRKACA":0.6,"PLCG1":-0.1,"IL6":0.6,"IL18":-0.2,"GSDMC":0.4,"CASP9":0.7,"CASP8":0.0,"CASP4":-0.1,"CASP3":0.3},
  {"i":24,"g":"High","PRKACA":0.1,"PLCG1":0.7,"IL6":0.2,"IL18":0.6,"GSDMC":1.0,"CASP9":0.2,"CASP8":0.4,"CASP4":0.4,"CASP3":0.0},
  {"i":25,"g":"High","PRKACA":0.8,"PLCG1":0.3,"IL6":-0.8,"IL18":0.3,"GSDMC":0.7,"CASP9":0.6,"CASP8":0.3,"CASP4":0.3,"CASP3":0.4},
  {"i":26,"g":"High","PRKACA":-0.3,"PLCG1":0.9,"IL6":0.8,"IL18":0.8,"GSDMC":0.3,"CASP9":0.4,"CASP8":0.6,"CASP4":0.5,"CASP3":0.2},
  {"i":27,"g":"High","PRKACA":0.5,"PLCG1":0.4,"IL6":0.3,"IL18":0.2,"GSDMC":0.8,"CASP9":0.1,"CASP8":0.5,"CASP4":0.4,"CASP3":0.6},
  {"i":28,"g":"High","PRKACA":0.9,"PLCG1":0.6,"IL6":2.0,"IL18":0.7,"GSDMC":0.5,"CASP9":0.5,"CASP8":0.8,"CASP4":0.7,"CASP3":0.3},
  {"i":29,"g":"High","PRKACA":0.2,"PLCG1":1.0,"IL6":0.4,"IL18":0.5,"GSDMC":0.9,"CASP9":0.3,"CASP8":0.6,"CASP4":0.6,"CASP3":0.5},
  {"i":30,"g":"High","PRKACA":0.7,"PLCG1":0.2,"IL6":-0.2,"IL18":1.0,"GSDMC":0.2,"CASP9":0.6,"CASP8":1.0,"CASP4":0.9,"CASP3":0.8},
  {"i":31,"g":"High","PRKACA":1.0,"PLCG1":0.8,"IL6":0.7,"IL18":0.4,"GSDMC":0.6,"CASP9":0.2,"CASP8":0.9,"CASP4":0.8,"CASP3":0.4},
  {"i":32,"g":"High","PRKACA":0.4,"PLCG1":0.5,"IL6":0.5,"IL18":0.9,"GSDMC":0.3,"CASP9":0.4,"CASP8":1.2,"CASP4":1.1,"CASP3":0.9},
  {"i":33,"g":"High","PRKACA":1.2,"PLCG1":1.1,"IL6":1.0,"IL18":0.6,"GSDMC":-0.8,"CASP9":0.0,"CASP8":1.3,"CASP4":1.2,"CASP3":0.7},
  {"i":34,"g":"High","PRKACA":0.6,"PLCG1":0.7,"IL6":0.3,"IL18":1.1,"GSDMC":-0.2,"CASP9":0.3,"CASP8":1.6,"CASP4":1.5,"CASP3":1.1},
  {"i":35,"g":"High","PRKACA":1.1,"PLCG1":0.9,"IL6":0.9,"IL18":0.8,"GSDMC":-2.2,"CASP9":-0.2,"CASP8":1.5,"CASP4":1.4,"CASP3":1.3},
  {"i":36,"g":"High","PRKACA":0.8,"PLCG1":0.6,"IL6":0.4,"IL18":1.2,"GSDMC":-0.6,"CASP9":0.1,"CASP8":1.9,"CASP4":1.8,"CASP3":1.0},
  {"i":37,"g":"High","PRKACA":1.4,"PLCG1":1.2,"IL6":1.3,"IL18":0.9,"GSDMC":-1.5,"CASP9":-0.5,"CASP8":2.2,"CASP4":2.1,"CASP3":1.6},
  {"i":38,"g":"High","PRKACA":1.0,"PLCG1":0.8,"IL6":0.6,"IL18":1.4,"GSDMC":-0.3,"CASP9":-0.2,"CASP8":2.0,"CASP4":1.9,"CASP3":2.0},
  {"i":39,"g":"High","PRKACA":1.5,"PLCG1":1.0,"IL6":0.8,"IL18":1.0,"GSDMC":-1.9,"CASP9":-0.6,"CASP8":2.4,"CASP4":2.5,"CASP3":2.8},
  {"i":40,"g":"High","PRKACA":1.3,"PLCG1":1.3,"IL6":1.1,"IL18":1.3,"GSDMC":-1.0,"CASP9":-0.4,"CASP8":2.1,"CASP4":2.3,"CASP3":2.2}
 ],
 "heatB":[
  {"i":1,"g":"Low","PRKACA":0.1,"PLCG1":1.2,"IL6":0.8,"IL18":1.0,"GSDMC":0.9,"CASP9":1.8,"CASP8":1.0,"CASP4":0.9,"CASP3":0.2},
  {"i":2,"g":"Low","PRKACA":0.2,"PLCG1":1.5,"IL6":0.9,"IL18":1.3,"GSDMC":0.8,"CASP9":1.4,"CASP8":1.2,"CASP4":1.0,"CASP3":0.3},
  {"i":3,"g":"Low","PRKACA":0.1,"PLCG1":1.3,"IL6":0.8,"IL18":0.9,"GSDMC":1.0,"CASP9":1.6,"CASP8":0.9,"CASP4":0.8,"CASP3":0.2},
  {"i":4,"g":"Low","PRKACA":0.8,"PLCG1":1.6,"IL6":0.9,"IL18":1.2,"GSDMC":0.9,"CASP9":1.3,"CASP8":1.1,"CASP4":0.9,"CASP3":0.4},
  {"i":5,"g":"Low","PRKACA":1.0,"PLCG1":1.2,"IL6":0.8,"IL18":0.8,"GSDMC":0.8,"CASP9":1.5,"CASP8":0.9,"CASP4":0.8,"CASP3":0.8},
  {"i":6,"g":"Low","PRKACA":0.9,"PLCG1":1.5,"IL6":1.0,"IL18":1.1,"GSDMC":0.9,"CASP9":2.8,"CASP8":1.0,"CASP4":0.8,"CASP3":1.0},
  {"i":7,"g":"Low","PRKACA":1.2,"PLCG1":1.3,"IL6":0.9,"IL18":0.7,"GSDMC":1.0,"CASP9":1.2,"CASP8":0.8,"CASP4":0.9,"CASP3":1.1},
  {"i":8,"g":"Low","PRKACA":0.8,"PLCG1":1.4,"IL6":0.8,"IL18":1.0,"GSDMC":0.9,"CASP9":1.5,"CASP8":1.1,"CASP4":0.8,"CASP3":1.0},
  {"i":9,"g":"Low","PRKACA":1.1,"PLCG1":1.2,"IL6":0.9,"IL18":0.9,"GSDMC":1.0,"CASP9":3.5,"CASP8":0.9,"CASP4":0.9,"CASP3":1.2},
  {"i":10,"g":"Low","PRKACA":0.9,"PLCG1":1.5,"IL6":0.8,"IL18":0.8,"GSDMC":0.8,"CASP9":1.3,"CASP8":0.8,"CASP4":0.8,"CASP3":0.9},
  {"i":11,"g":"Low","PRKACA":1.0,"PLCG1":1.4,"IL6":1.0,"IL18":1.1,"GSDMC":6.5,"CASP9":2.2,"CASP8":1.0,"CASP4":0.9,"CASP3":1.1},
  {"i":12,"g":"Low","PRKACA":1.2,"PLCG1":1.2,"IL6":0.9,"IL18":0.7,"GSDMC":0.9,"CASP9":1.3,"CASP8":0.9,"CASP4":0.8,"CASP3":1.0},
  {"i":13,"g":"Low","PRKACA":0.8,"PLCG1":1.5,"IL6":0.8,"IL18":0.9,"GSDMC":0.8,"CASP9":1.2,"CASP8":1.1,"CASP4":0.8,"CASP3":0.9},
  {"i":14,"g":"Low","PRKACA":1.1,"PLCG1":1.3,"IL6":0.9,"IL18":2.5,"GSDMC":1.0,"CASP9":1.4,"CASP8":0.8,"CASP4":0.9,"CASP3":1.1},
  {"i":15,"g":"Low","PRKACA":0.9,"PLCG1":1.2,"IL6":0.8,"IL18":0.8,"GSDMC":0.9,"CASP9":1.3,"CASP8":0.9,"CASP4":0.8,"CASP3":0.9},
  {"i":16,"g":"Low","PRKACA":1.2,"PLCG1":1.4,"IL6":9.0,"IL18":1.0,"GSDMC":0.8,"CASP9":1.2,"CASP8":0.9,"CASP4":0.8,"CASP3":1.0},
  {"i":17,"g":"Low","PRKACA":1.0,"PLCG1":1.3,"IL6":0.9,"IL18":0.7,"GSDMC":1.0,"CASP9":1.4,"CASP8":0.8,"CASP4":0.9,"CASP3":1.0},
  {"i":18,"g":"Low","PRKACA":0.8,"PLCG1":1.5,"IL6":0.8,"IL18":0.9,"GSDMC":0.9,"CASP9":1.2,"CASP8":1.0,"CASP4":0.8,"CASP3":0.9},
  {"i":19,"g":"Low","PRKACA":1.1,"PLCG1":1.2,"IL6":1.0,"IL18":1.1,"GSDMC":7.5,"CASP9":1.3,"CASP8":0.8,"CASP4":0.8,"CASP3":1.1},
  {"i":20,"g":"Low","PRKACA":1.0,"PLCG1":1.4,"IL6":0.9,"IL18":0.8,"GSDMC":0.9,"CASP9":1.1,"CASP8":0.9,"CASP4":0.8,"CASP3":1.0},
  {"i":21,"g":"High","PRKACA":1.3,"PLCG1":1.6,"IL6":0.9,"IL18":1.0,"GSDMC":1.0,"CASP9":1.3,"CASP8":0.9,"CASP4":0.8,"CASP3":1.0},
  {"i":22,"g":"High","PRKACA":1.8,"PLCG1":1.9,"IL6":1.0,"IL18":0.8,"GSDMC":2.0,"CASP9":1.5,"CASP8":1.1,"CASP4":0.9,"CASP3":1.3},
  {"i":23,"g":"High","PRKACA":1.1,"PLCG1":1.5,"IL6":3.0,"IL18":1.1,"GSDMC":0.9,"CASP9":2.2,"CASP8":0.9,"CASP4":0.8,"CASP3":0.9},
  {"i":24,"g":"High","PRKACA":3.5,"PLCG1":2.2,"IL6":0.9,"IL18":2.2,"GSDMC":1.1,"CASP9":1.4,"CASP8":1.4,"CASP4":1.0,"CASP3":1.6},
  {"i":25,"g":"High","PRKACA":1.5,"PLCG1":1.8,"IL6":1.0,"IL18":0.9,"GSDMC":1.0,"CASP9":1.7,"CASP8":1.1,"CASP4":0.9,"CASP3":1.1},
  {"i":26,"g":"High","PRKACA":1.2,"PLCG1":1.6,"IL6":1.1,"IL18":1.2,"GSDMC":2.5,"CASP9":2.6,"CASP8":0.9,"CASP4":1.0,"CASP3":1.0},
  {"i":27,"g":"High","PRKACA":2.5,"PLCG1":2.5,"IL6":0.9,"IL18":1.6,"GSDMC":1.0,"CASP9":1.5,"CASP8":1.6,"CASP4":0.9,"CASP3":1.8},
  {"i":28,"g":"High","PRKACA":1.4,"PLCG1":1.9,"IL6":2.8,"IL18":1.0,"GSDMC":0.9,"CASP9":1.9,"CASP8":1.2,"CASP4":1.1,"CASP3":1.2},
  {"i":29,"g":"High","PRKACA":4.0,"PLCG1":2.2,"IL6":1.0,"IL18":3.0,"GSDMC":1.2,"CASP9":1.6,"CASP8":2.0,"CASP4":0.9,"CASP3":1.4},
  {"i":30,"g":"High","PRKACA":1.6,"PLCG1":2.8,"IL6":1.1,"IL18":1.3,"GSDMC":1.0,"CASP9":2.3,"CASP8":1.3,"CASP4":0.9,"CASP3":2.0},
  {"i":31,"g":"High","PRKACA":1.2,"PLCG1":2.4,"IL6":0.9,"IL18":1.0,"GSDMC":1.1,"CASP9":1.5,"CASP8":1.1,"CASP4":1.0,"CASP3":1.1},
  {"i":32,"g":"High","PRKACA":2.0,"PLCG1":2.1,"IL6":1.0,"IL18":4.5,"GSDMC":0.9,"CASP9":1.8,"CASP8":1.7,"CASP4":1.0,"CASP3":1.6},
  {"i":33,"g":"High","PRKACA":1.5,"PLCG1":3.2,"IL6":2.5,"IL18":1.4,"GSDMC":1.2,"CASP9":2.1,"CASP8":1.2,"CASP4":1.1,"CASP3":1.3},
  {"i":34,"g":"High","PRKACA":3.0,"PLCG1":2.7,"IL6":1.0,"IL18":1.1,"GSDMC":1.0,"CASP9":1.6,"CASP8":2.2,"CASP4":0.9,"CASP3":2.2},
  {"i":35,"g":"High","PRKACA":1.3,"PLCG1":3.6,"IL6":1.1,"IL18":1.8,"GSDMC":1.3,"CASP9":2.4,"CASP8":1.5,"CASP4":1.1,"CASP3":1.5},
  {"i":36,"g":"High","PRKACA":2.2,"PLCG1":3.0,"IL6":0.9,"IL18":1.3,"GSDMC":1.0,"CASP9":1.7,"CASP8":3.8,"CASP4":1.0,"CASP3":1.2},
  {"i":37,"g":"High","PRKACA":1.6,"PLCG1":4.2,"IL6":1.0,"IL18":3.5,"GSDMC":0.9,"CASP9":2.0,"CASP8":1.4,"CASP4":1.2,"CASP3":1.8},
  {"i":38,"g":"High","PRKACA":2.6,"PLCG1":4.6,"IL6":3.2,"IL18":1.2,"GSDMC":1.1,"CASP9":2.8,"CASP8":1.8,"CASP4":1.0,"CASP3":1.4},
  {"i":39,"g":"High","PRKACA":1.9,"PLCG1":5.2,"IL6":1.0,"IL18":1.6,"GSDMC":1.0,"CASP9":1.8,"CASP8":4.5,"CASP4":1.3,"CASP3":2.4},
  {"i":40,"g":"High","PRKACA":1.4,"PLCG1":5.8,"IL6":1.1,"IL18":1.3,"GSDMC":1.2,"CASP9":1.5,"CASP8":1.6,"CASP4":1.1,"CASP3":1.7}
 ],
 "kmC":[
  {"k":"Risk=high","t":0,"p":1},{"k":"Risk=high","t":3,"p":0.99},{"k":"Risk=high","t":5,"p":0.98},{"k":"Risk=high","t":7,"p":0.96},{"k":"Risk=high","t":9,"p":0.94},{"k":"Risk=high","t":10,"p":0.92},{"k":"Risk=high","t":12,"p":0.9},{"k":"Risk=high","t":14,"p":0.87},{"k":"Risk=high","t":15,"p":0.85},{"k":"Risk=high","t":17,"p":0.82},
  {"k":"Risk=high","t":18,"p":0.8},{"k":"Risk=high","t":20,"p":0.78},{"k":"Risk=high","t":22,"p":0.76},{"k":"Risk=high","t":24,"p":0.74},{"k":"Risk=high","t":25,"p":0.72},{"k":"Risk=high","t":27,"p":0.7},{"k":"Risk=high","t":28,"p":0.68},{"k":"Risk=high","t":30,"p":0.66},{"k":"Risk=high","t":31,"p":0.64},{"k":"Risk=high","t":33,"p":0.62},
  {"k":"Risk=high","t":35,"p":0.6},{"k":"Risk=high","t":36,"p":0.58},{"k":"Risk=high","t":37,"p":0.56},{"k":"Risk=high","t":39,"p":0.54},{"k":"Risk=high","t":40,"p":0.53},{"k":"Risk=high","t":42,"p":0.51},{"k":"Risk=high","t":45,"p":0.49},{"k":"Risk=high","t":48,"p":0.48},{"k":"Risk=high","t":50,"p":0.47},{"k":"Risk=high","t":53,"p":0.45},
  {"k":"Risk=high","t":55,"p":0.44},{"k":"Risk=high","t":58,"p":0.42},{"k":"Risk=high","t":60,"p":0.41},{"k":"Risk=high","t":67,"p":0.39},{"k":"Risk=high","t":70,"p":0.37},{"k":"Risk=high","t":76,"p":0.36},{"k":"Risk=high","t":81,"p":0.34},{"k":"Risk=high","t":86,"p":0.33},{"k":"Risk=high","t":90,"p":0.3},{"k":"Risk=high","t":95,"p":0.27},
  {"k":"Risk=high","t":98,"p":0.25},{"k":"Risk=high","t":103,"p":0.22},{"k":"Risk=high","t":108,"p":0.2},{"k":"Risk=high","t":113,"p":0.19},{"k":"Risk=high","t":117,"p":0.17},{"k":"Risk=high","t":133,"p":0.15},{"k":"Risk=high","t":135,"p":0.12},{"k":"Risk=high","t":136,"p":0.07},{"k":"Risk=high","t":140,"p":0.05},{"k":"Risk=high","t":146.8,"p":0.025},{"k":"Risk=high","t":209.5,"p":0.025},
  {"k":"Risk=low","t":0,"p":1},{"k":"Risk=low","t":10,"p":1},{"k":"Risk=low","t":18,"p":0.99},{"k":"Risk=low","t":22,"p":0.985},{"k":"Risk=low","t":26,"p":0.975},{"k":"Risk=low","t":30,"p":0.96},{"k":"Risk=low","t":33,"p":0.944},{"k":"Risk=low","t":37,"p":0.92},{"k":"Risk=low","t":42,"p":0.89},{"k":"Risk=low","t":46,"p":0.865},
  {"k":"Risk=low","t":50,"p":0.84},{"k":"Risk=low","t":54,"p":0.82},{"k":"Risk=low","t":58,"p":0.8},{"k":"Risk=low","t":62,"p":0.785},{"k":"Risk=low","t":67,"p":0.77},{"k":"Risk=low","t":72,"p":0.75},{"k":"Risk=low","t":75,"p":0.72},{"k":"Risk=low","t":97,"p":0.64},{"k":"Risk=low","t":113,"p":0.59},{"k":"Risk=low","t":136,"p":0.53},
  {"k":"Risk=low","t":147.4,"p":0.45},{"k":"Risk=low","t":155.8,"p":0.38},{"k":"Risk=low","t":171.7,"p":0.29},{"k":"Risk=low","t":185.3,"p":0.29}
 ],
 "bandC":[
  {"k":"Risk=high","t":0,"lo":1,"hi":1},{"k":"Risk=high","t":5,"lo":0.96,"hi":1},{"k":"Risk=high","t":10,"lo":0.88,"hi":0.96},{"k":"Risk=high","t":15,"lo":0.79,"hi":0.9},{"k":"Risk=high","t":20,"lo":0.71,"hi":0.85},{"k":"Risk=high","t":25,"lo":0.64,"hi":0.8},{"k":"Risk=high","t":30,"lo":0.58,"hi":0.74},{"k":"Risk=high","t":35,"lo":0.52,"hi":0.69},
  {"k":"Risk=high","t":40,"lo":0.46,"hi":0.62},{"k":"Risk=high","t":45,"lo":0.42,"hi":0.58},{"k":"Risk=high","t":50,"lo":0.39,"hi":0.55},{"k":"Risk=high","t":55,"lo":0.36,"hi":0.52},{"k":"Risk=high","t":60,"lo":0.33,"hi":0.5},{"k":"Risk=high","t":67,"lo":0.31,"hi":0.48},{"k":"Risk=high","t":70,"lo":0.29,"hi":0.46},{"k":"Risk=high","t":76,"lo":0.27,"hi":0.45},
  {"k":"Risk=high","t":81,"lo":0.25,"hi":0.43},{"k":"Risk=high","t":86,"lo":0.24,"hi":0.41},{"k":"Risk=high","t":90,"lo":0.21,"hi":0.39},{"k":"Risk=high","t":95,"lo":0.18,"hi":0.36},{"k":"Risk=high","t":100,"lo":0.16,"hi":0.33},{"k":"Risk=high","t":103,"lo":0.15,"hi":0.32},{"k":"Risk=high","t":108,"lo":0.13,"hi":0.3},{"k":"Risk=high","t":113,"lo":0.12,"hi":0.29},
  {"k":"Risk=high","t":117,"lo":0.1,"hi":0.27},{"k":"Risk=high","t":133,"lo":0.09,"hi":0.25},{"k":"Risk=high","t":135,"lo":0.06,"hi":0.23},{"k":"Risk=high","t":136,"lo":0.02,"hi":0.16},{"k":"Risk=high","t":140,"lo":0.01,"hi":0.14},{"k":"Risk=high","t":146.8,"lo":0.003,"hi":0.167},{"k":"Risk=high","t":209.5,"lo":0.003,"hi":0.167},
  {"k":"Risk=low","t":0,"lo":1,"hi":1},{"k":"Risk=low","t":10,"lo":0.99,"hi":1},{"k":"Risk=low","t":20,"lo":0.965,"hi":1},{"k":"Risk=low","t":30,"lo":0.92,"hi":0.99},{"k":"Risk=low","t":40,"lo":0.86,"hi":0.97},{"k":"Risk=low","t":50,"lo":0.78,"hi":0.93},{"k":"Risk=low","t":60,"lo":0.72,"hi":0.9},{"k":"Risk=low","t":70,"lo":0.67,"hi":0.87},
  {"k":"Risk=low","t":75,"lo":0.64,"hi":0.84},{"k":"Risk=low","t":97,"lo":0.53,"hi":0.79},{"k":"Risk=low","t":118,"lo":0.455,"hi":0.74},{"k":"Risk=low","t":136,"lo":0.375,"hi":0.74},{"k":"Risk=low","t":147.4,"lo":0.3,"hi":0.64},{"k":"Risk=low","t":155.8,"lo":0.27,"hi":0.64},{"k":"Risk=low","t":171.7,"lo":0.127,"hi":0.64},{"k":"Risk=low","t":185.3,"lo":0.127,"hi":0.64}
 ],
 "medC":[{"x1":0,"x2":147.4,"y1":0.5,"y2":0.5},{"x1":44.8,"x2":44.8,"y1":0,"y2":0.5},{"x1":147.4,"x2":147.4,"y1":0,"y2":0.5}],
 "kmD":[
  {"k":"Risk=high","t":0,"p":1},{"k":"Risk=high","t":2,"p":0.99},{"k":"Risk=high","t":4,"p":0.97},{"k":"Risk=high","t":6,"p":0.95},{"k":"Risk=high","t":8,"p":0.92},{"k":"Risk=high","t":10,"p":0.88},{"k":"Risk=high","t":12,"p":0.84},{"k":"Risk=high","t":14,"p":0.8},{"k":"Risk=high","t":16,"p":0.77},{"k":"Risk=high","t":18,"p":0.74},
  {"k":"Risk=high","t":20,"p":0.72},{"k":"Risk=high","t":23,"p":0.69},{"k":"Risk=high","t":26,"p":0.66},{"k":"Risk=high","t":29,"p":0.63},{"k":"Risk=high","t":33,"p":0.607},{"k":"Risk=high","t":37,"p":0.59},{"k":"Risk=high","t":42,"p":0.56},{"k":"Risk=high","t":47,"p":0.53},{"k":"Risk=high","t":52.7,"p":0.5},{"k":"Risk=high","t":56,"p":0.48},
  {"k":"Risk=high","t":60,"p":0.465},{"k":"Risk=high","t":65,"p":0.447},{"k":"Risk=high","t":70,"p":0.43},{"k":"Risk=high","t":74,"p":0.415},{"k":"Risk=high","t":79,"p":0.4},{"k":"Risk=high","t":84,"p":0.39},{"k":"Risk=high","t":86,"p":0.37},{"k":"Risk=high","t":90,"p":0.35},{"k":"Risk=high","t":95,"p":0.34},{"k":"Risk=high","t":100,"p":0.327},
  {"k":"Risk=high","t":103,"p":0.318},{"k":"Risk=high","t":110,"p":0.28},{"k":"Risk=high","t":122.5,"p":0.235},{"k":"Risk=high","t":167.5,"p":0.235},
  {"k":"Risk=low","t":0,"p":1},{"k":"Risk=low","t":3,"p":0.98},{"k":"Risk=low","t":6,"p":0.95},{"k":"Risk=low","t":9,"p":0.92},{"k":"Risk=low","t":13,"p":0.89},{"k":"Risk=low","t":18,"p":0.865},{"k":"Risk=low","t":23.7,"p":0.84},{"k":"Risk=low","t":28,"p":0.815},{"k":"Risk=low","t":32,"p":0.795},{"k":"Risk=low","t":35,"p":0.775},
  {"k":"Risk=low","t":40.6,"p":0.745},{"k":"Risk=low","t":45,"p":0.73},{"k":"Risk=low","t":50,"p":0.71},{"k":"Risk=low","t":55,"p":0.7},{"k":"Risk=low","t":59,"p":0.69},{"k":"Risk=low","t":63,"p":0.675},{"k":"Risk=low","t":66.7,"p":0.66},{"k":"Risk=low","t":72,"p":0.655},{"k":"Risk=low","t":78,"p":0.647},{"k":"Risk=low","t":82,"p":0.635},
  {"k":"Risk=low","t":85.4,"p":0.615},{"k":"Risk=low","t":88,"p":0.59},{"k":"Risk=low","t":91,"p":0.567},{"k":"Risk=low","t":100,"p":0.56},{"k":"Risk=low","t":101,"p":0.535},{"k":"Risk=low","t":103,"p":0.49},{"k":"Risk=low","t":153.6,"p":0.49}
 ],
 "bandD":[
  {"k":"Risk=high","t":0,"lo":1,"hi":1},{"k":"Risk=high","t":5,"lo":0.92,"hi":0.99},{"k":"Risk=high","t":10,"lo":0.83,"hi":0.93},{"k":"Risk=high","t":15,"lo":0.74,"hi":0.86},{"k":"Risk=high","t":20,"lo":0.66,"hi":0.79},{"k":"Risk=high","t":25,"lo":0.6,"hi":0.73},{"k":"Risk=high","t":30,"lo":0.55,"hi":0.69},{"k":"Risk=high","t":35,"lo":0.52,"hi":0.66},
  {"k":"Risk=high","t":40,"lo":0.49,"hi":0.63},{"k":"Risk=high","t":45,"lo":0.46,"hi":0.61},{"k":"Risk=high","t":50,"lo":0.43,"hi":0.58},{"k":"Risk=high","t":55,"lo":0.41,"hi":0.56},{"k":"Risk=high","t":60,"lo":0.39,"hi":0.54},{"k":"Risk=high","t":65,"lo":0.37,"hi":0.52},{"k":"Risk=high","t":70,"lo":0.35,"hi":0.5},{"k":"Risk=high","t":75,"lo":0.33,"hi":0.49},
  {"k":"Risk=high","t":80,"lo":0.32,"hi":0.47},{"k":"Risk=high","t":86,"lo":0.3,"hi":0.45},{"k":"Risk=high","t":90,"lo":0.28,"hi":0.43},{"k":"Risk=high","t":95,"lo":0.27,"hi":0.42},{"k":"Risk=high","t":100,"lo":0.26,"hi":0.41},{"k":"Risk=high","t":103,"lo":0.25,"hi":0.4},{"k":"Risk=high","t":110,"lo":0.2,"hi":0.39},{"k":"Risk=high","t":122.5,"lo":0.145,"hi":0.385},{"k":"Risk=high","t":167.5,"lo":0.145,"hi":0.385},
  {"k":"Risk=low","t":0,"lo":1,"hi":1},{"k":"Risk=low","t":5,"lo":0.93,"hi":1},{"k":"Risk=low","t":10,"lo":0.87,"hi":0.97},{"k":"Risk=low","t":15,"lo":0.83,"hi":0.94},{"k":"Risk=low","t":20,"lo":0.79,"hi":0.92},{"k":"Risk=low","t":25,"lo":0.75,"hi":0.89},{"k":"Risk=low","t":30,"lo":0.72,"hi":0.87},{"k":"Risk=low","t":35,"lo":0.69,"hi":0.85},
  {"k":"Risk=low","t":40,"lo":0.66,"hi":0.83},{"k":"Risk=low","t":45,"lo":0.64,"hi":0.81},{"k":"Risk=low","t":50,"lo":0.62,"hi":0.8},{"k":"Risk=low","t":55,"lo":0.61,"hi":0.79},{"k":"Risk=low","t":60,"lo":0.6,"hi":0.78},{"k":"Risk=low","t":66.7,"lo":0.58,"hi":0.76},{"k":"Risk=low","t":72,"lo":0.57,"hi":0.75},{"k":"Risk=low","t":78,"lo":0.56,"hi":0.72},
  {"k":"Risk=low","t":85.4,"lo":0.52,"hi":0.7},{"k":"Risk=low","t":91,"lo":0.48,"hi":0.66},{"k":"Risk=low","t":100,"lo":0.45,"hi":0.65},{"k":"Risk=low","t":101,"lo":0.42,"hi":0.64},{"k":"Risk=low","t":103,"lo":0.39,"hi":0.623},{"k":"Risk=low","t":153.6,"lo":0.39,"hi":0.623}
 ],
 "medD":[{"x1":0,"x2":103.2,"y1":0.5,"y2":0.5},{"x1":52.7,"x2":52.7,"y1":0,"y2":0.5},{"x1":103.2,"x2":103.2,"y1":0,"y2":0.5}],
 "tabC":[{"t":0,"g":"High","n":"261"},{"t":50,"g":"High","n":"34"},{"t":100,"g":"High","n":"10"},{"t":150,"g":"High","n":"1"},{"t":200,"g":"High","n":"1"},{"t":0,"g":"Low","n":"261"},{"t":50,"g":"Low","n":"56"},{"t":100,"g":"Low","n":"16"},{"t":150,"g":"Low","n":"6"},{"t":200,"g":"Low","n":"0"}],
 "tabD":[{"t":0,"g":"High","n":"210"},{"t":40,"g":"High","n":"105"},{"t":80,"g":"High","n":"39"},{"t":120,"g":"High","n":"7"},{"t":160,"g":"High","n":"1"},{"t":0,"g":"Low","n":"210"},{"t":40,"g":"Low","n":"128"},{"t":80,"g":"Low","n":"59"},{"t":120,"g":"Low","n":"4"},{"t":160,"g":"Low","n":"0"}],
 "rocE":[
  {"c":"AUC at 1 years: 0.856","x":0,"y":0},{"c":"AUC at 1 years: 0.856","x":0.005,"y":0.06},{"c":"AUC at 1 years: 0.856","x":0.01,"y":0.18},{"c":"AUC at 1 years: 0.856","x":0.015,"y":0.22},{"c":"AUC at 1 years: 0.856","x":0.02,"y":0.27},{"c":"AUC at 1 years: 0.856","x":0.03,"y":0.3},{"c":"AUC at 1 years: 0.856","x":0.04,"y":0.33},{"c":"AUC at 1 years: 0.856","x":0.09,"y":0.33},
  {"c":"AUC at 1 years: 0.856","x":0.09,"y":0.37},{"c":"AUC at 1 years: 0.856","x":0.1,"y":0.4},{"c":"AUC at 1 years: 0.856","x":0.11,"y":0.4},{"c":"AUC at 1 years: 0.856","x":0.11,"y":0.44},{"c":"AUC at 1 years: 0.856","x":0.12,"y":0.47},{"c":"AUC at 1 years: 0.856","x":0.13,"y":0.53},{"c":"AUC at 1 years: 0.856","x":0.135,"y":0.59},{"c":"AUC at 1 years: 0.856","x":0.148,"y":0.59},
  {"c":"AUC at 1 years: 0.856","x":0.148,"y":0.706},{"c":"AUC at 1 years: 0.856","x":0.185,"y":0.706},{"c":"AUC at 1 years: 0.856","x":0.185,"y":0.745},{"c":"AUC at 1 years: 0.856","x":0.24,"y":0.745},{"c":"AUC at 1 years: 0.856","x":0.24,"y":0.8},{"c":"AUC at 1 years: 0.856","x":0.245,"y":0.86},{"c":"AUC at 1 years: 0.856","x":0.27,"y":0.86},{"c":"AUC at 1 years: 0.856","x":0.27,"y":0.898},
  {"c":"AUC at 1 years: 0.856","x":0.325,"y":0.898},{"c":"AUC at 1 years: 0.856","x":0.325,"y":0.93},{"c":"AUC at 1 years: 0.856","x":0.495,"y":0.93},{"c":"AUC at 1 years: 0.856","x":0.495,"y":0.966},{"c":"AUC at 1 years: 0.856","x":0.638,"y":0.966},{"c":"AUC at 1 years: 0.856","x":0.638,"y":1},{"c":"AUC at 1 years: 0.856","x":1,"y":1},
  {"c":"AUC at 3 years: 0.832","x":0,"y":0},{"c":"AUC at 3 years: 0.832","x":0.005,"y":0.07},{"c":"AUC at 3 years: 0.832","x":0.008,"y":0.2},{"c":"AUC at 3 years: 0.832","x":0.012,"y":0.25},{"c":"AUC at 3 years: 0.832","x":0.02,"y":0.3},{"c":"AUC at 3 years: 0.832","x":0.03,"y":0.32},{"c":"AUC at 3 years: 0.832","x":0.045,"y":0.32},{"c":"AUC at 3 years: 0.832","x":0.045,"y":0.37},
  {"c":"AUC at 3 years: 0.832","x":0.05,"y":0.39},{"c":"AUC at 3 years: 0.832","x":0.06,"y":0.39},{"c":"AUC at 3 years: 0.832","x":0.06,"y":0.45},{"c":"AUC at 3 years: 0.832","x":0.065,"y":0.5},{"c":"AUC at 3 years: 0.832","x":0.075,"y":0.53},{"c":"AUC at 3 years: 0.832","x":0.085,"y":0.54},{"c":"AUC at 3 years: 0.832","x":0.09,"y":0.56},{"c":"AUC at 3 years: 0.832","x":0.1,"y":0.59},
  {"c":"AUC at 3 years: 0.832","x":0.115,"y":0.59},{"c":"AUC at 3 years: 0.832","x":0.12,"y":0.61},{"c":"AUC at 3 years: 0.832","x":0.125,"y":0.65},{"c":"AUC at 3 years: 0.832","x":0.135,"y":0.68},{"c":"AUC at 3 years: 0.832","x":0.155,"y":0.69},{"c":"AUC at 3 years: 0.832","x":0.17,"y":0.7},{"c":"AUC at 3 years: 0.832","x":0.18,"y":0.74},{"c":"AUC at 3 years: 0.832","x":0.2,"y":0.74},
  {"c":"AUC at 3 years: 0.832","x":0.215,"y":0.77},{"c":"AUC at 3 years: 0.832","x":0.24,"y":0.78},{"c":"AUC at 3 years: 0.832","x":0.245,"y":0.82},{"c":"AUC at 3 years: 0.832","x":0.27,"y":0.82},{"c":"AUC at 3 years: 0.832","x":0.28,"y":0.83},{"c":"AUC at 3 years: 0.832","x":0.31,"y":0.84},{"c":"AUC at 3 years: 0.832","x":0.33,"y":0.85},{"c":"AUC at 3 years: 0.832","x":0.36,"y":0.87},
  {"c":"AUC at 3 years: 0.832","x":0.37,"y":0.88},{"c":"AUC at 3 years: 0.832","x":0.39,"y":0.89},{"c":"AUC at 3 years: 0.832","x":0.4,"y":0.9},{"c":"AUC at 3 years: 0.832","x":0.5,"y":0.905},{"c":"AUC at 3 years: 0.832","x":0.56,"y":0.915},{"c":"AUC at 3 years: 0.832","x":0.74,"y":0.915},{"c":"AUC at 3 years: 0.832","x":0.76,"y":0.93},{"c":"AUC at 3 years: 0.832","x":0.78,"y":0.95},
  {"c":"AUC at 3 years: 0.832","x":0.82,"y":0.96},{"c":"AUC at 3 years: 0.832","x":0.85,"y":0.975},{"c":"AUC at 3 years: 0.832","x":0.86,"y":0.985},{"c":"AUC at 3 years: 0.832","x":0.99,"y":0.985},{"c":"AUC at 3 years: 0.832","x":1,"y":1},
  {"c":"AUC at 5 years: 0.742","x":0,"y":0},{"c":"AUC at 5 years: 0.742","x":0,"y":0.06},{"c":"AUC at 5 years: 0.742","x":0.002,"y":0.21},{"c":"AUC at 5 years: 0.742","x":0.02,"y":0.22},{"c":"AUC at 5 years: 0.742","x":0.04,"y":0.22},{"c":"AUC at 5 years: 0.742","x":0.04,"y":0.26},{"c":"AUC at 5 years: 0.742","x":0.06,"y":0.265},{"c":"AUC at 5 years: 0.742","x":0.075,"y":0.27},
  {"c":"AUC at 5 years: 0.742","x":0.075,"y":0.34},{"c":"AUC at 5 years: 0.742","x":0.09,"y":0.36},{"c":"AUC at 5 years: 0.742","x":0.095,"y":0.4},{"c":"AUC at 5 years: 0.742","x":0.105,"y":0.41},{"c":"AUC at 5 years: 0.742","x":0.12,"y":0.41},{"c":"AUC at 5 years: 0.742","x":0.12,"y":0.47},{"c":"AUC at 5 years: 0.742","x":0.135,"y":0.48},{"c":"AUC at 5 years: 0.742","x":0.145,"y":0.51},
  {"c":"AUC at 5 years: 0.742","x":0.155,"y":0.55},{"c":"AUC at 5 years: 0.742","x":0.175,"y":0.58},{"c":"AUC at 5 years: 0.742","x":0.2,"y":0.58},{"c":"AUC at 5 years: 0.742","x":0.21,"y":0.6},{"c":"AUC at 5 years: 0.742","x":0.23,"y":0.61},{"c":"AUC at 5 years: 0.742","x":0.25,"y":0.61},{"c":"AUC at 5 years: 0.742","x":0.25,"y":0.64},{"c":"AUC at 5 years: 0.742","x":0.265,"y":0.68},
  {"c":"AUC at 5 years: 0.742","x":0.3,"y":0.68},{"c":"AUC at 5 years: 0.742","x":0.305,"y":0.7},{"c":"AUC at 5 years: 0.742","x":0.32,"y":0.71},{"c":"AUC at 5 years: 0.742","x":0.345,"y":0.72},{"c":"AUC at 5 years: 0.742","x":0.36,"y":0.74},{"c":"AUC at 5 years: 0.742","x":0.42,"y":0.745},{"c":"AUC at 5 years: 0.742","x":0.44,"y":0.77},{"c":"AUC at 5 years: 0.742","x":0.47,"y":0.77},
  {"c":"AUC at 5 years: 0.742","x":0.47,"y":0.8},{"c":"AUC at 5 years: 0.742","x":0.5,"y":0.8},{"c":"AUC at 5 years: 0.742","x":0.52,"y":0.81},{"c":"AUC at 5 years: 0.742","x":0.53,"y":0.82},{"c":"AUC at 5 years: 0.742","x":0.7,"y":0.82},{"c":"AUC at 5 years: 0.742","x":0.7,"y":0.84},{"c":"AUC at 5 years: 0.742","x":0.74,"y":0.84},{"c":"AUC at 5 years: 0.742","x":0.74,"y":0.89},
  {"c":"AUC at 5 years: 0.742","x":0.755,"y":0.89},{"c":"AUC at 5 years: 0.742","x":0.755,"y":0.97},{"c":"AUC at 5 years: 0.742","x":0.85,"y":0.97},{"c":"AUC at 5 years: 0.742","x":0.85,"y":0.985},{"c":"AUC at 5 years: 0.742","x":0.99,"y":0.985},{"c":"AUC at 5 years: 0.742","x":0.99,"y":1},{"c":"AUC at 5 years: 0.742","x":1,"y":1}
 ],
 "rocF":[
  {"c":"AUC at 1 years: 0.596","x":0,"y":0},{"c":"AUC at 1 years: 0.596","x":0.005,"y":0.05},{"c":"AUC at 1 years: 0.596","x":0.01,"y":0.08},{"c":"AUC at 1 years: 0.596","x":0.03,"y":0.08},{"c":"AUC at 1 years: 0.596","x":0.03,"y":0.1},{"c":"AUC at 1 years: 0.596","x":0.05,"y":0.1},{"c":"AUC at 1 years: 0.596","x":0.055,"y":0.13},{"c":"AUC at 1 years: 0.596","x":0.065,"y":0.16},
  {"c":"AUC at 1 years: 0.596","x":0.075,"y":0.2},{"c":"AUC at 1 years: 0.596","x":0.085,"y":0.23},{"c":"AUC at 1 years: 0.596","x":0.095,"y":0.27},{"c":"AUC at 1 years: 0.596","x":0.125,"y":0.27},{"c":"AUC at 1 years: 0.596","x":0.14,"y":0.31},{"c":"AUC at 1 years: 0.596","x":0.155,"y":0.33},{"c":"AUC at 1 years: 0.596","x":0.165,"y":0.37},{"c":"AUC at 1 years: 0.596","x":0.18,"y":0.4},
  {"c":"AUC at 1 years: 0.596","x":0.19,"y":0.42},{"c":"AUC at 1 years: 0.596","x":0.255,"y":0.42},{"c":"AUC at 1 years: 0.596","x":0.265,"y":0.44},{"c":"AUC at 1 years: 0.596","x":0.275,"y":0.46},{"c":"AUC at 1 years: 0.596","x":0.28,"y":0.5},{"c":"AUC at 1 years: 0.596","x":0.31,"y":0.5},{"c":"AUC at 1 years: 0.596","x":0.32,"y":0.52},{"c":"AUC at 1 years: 0.596","x":0.345,"y":0.54},
  {"c":"AUC at 1 years: 0.596","x":0.36,"y":0.56},{"c":"AUC at 1 years: 0.596","x":0.385,"y":0.58},{"c":"AUC at 1 years: 0.596","x":0.395,"y":0.6},{"c":"AUC at 1 years: 0.596","x":0.46,"y":0.6},{"c":"AUC at 1 years: 0.596","x":0.49,"y":0.62},{"c":"AUC at 1 years: 0.596","x":0.57,"y":0.64},{"c":"AUC at 1 years: 0.596","x":0.64,"y":0.67},{"c":"AUC at 1 years: 0.596","x":0.68,"y":0.7},
  {"c":"AUC at 1 years: 0.596","x":0.7,"y":0.72},{"c":"AUC at 1 years: 0.596","x":0.715,"y":0.76},{"c":"AUC at 1 years: 0.596","x":0.76,"y":0.77},{"c":"AUC at 1 years: 0.596","x":0.77,"y":0.81},{"c":"AUC at 1 years: 0.596","x":0.84,"y":0.81},{"c":"AUC at 1 years: 0.596","x":0.86,"y":0.85},{"c":"AUC at 1 years: 0.596","x":0.9,"y":0.87},{"c":"AUC at 1 years: 0.596","x":0.93,"y":0.87},
  {"c":"AUC at 1 years: 0.596","x":0.95,"y":0.91},{"c":"AUC at 1 years: 0.596","x":0.96,"y":0.93},{"c":"AUC at 1 years: 0.596","x":0.975,"y":0.94},{"c":"AUC at 1 years: 0.596","x":0.985,"y":0.97},{"c":"AUC at 1 years: 0.596","x":0.99,"y":1},{"c":"AUC at 1 years: 0.596","x":1,"y":1},
  {"c":"AUC at 3 years: 0.636","x":0,"y":0},{"c":"AUC at 3 years: 0.636","x":0.002,"y":0.08},{"c":"AUC at 3 years: 0.636","x":0.01,"y":0.12},{"c":"AUC at 3 years: 0.636","x":0.02,"y":0.14},{"c":"AUC at 3 years: 0.636","x":0.025,"y":0.17},{"c":"AUC at 3 years: 0.636","x":0.03,"y":0.19},{"c":"AUC at 3 years: 0.636","x":0.035,"y":0.23},{"c":"AUC at 3 years: 0.636","x":0.05,"y":0.23},
  {"c":"AUC at 3 years: 0.636","x":0.055,"y":0.27},{"c":"AUC at 3 years: 0.636","x":0.07,"y":0.27},{"c":"AUC at 3 years: 0.636","x":0.075,"y":0.31},{"c":"AUC at 3 years: 0.636","x":0.085,"y":0.34},{"c":"AUC at 3 years: 0.636","x":0.1,"y":0.36},{"c":"AUC at 3 years: 0.636","x":0.12,"y":0.37},{"c":"AUC at 3 years: 0.636","x":0.14,"y":0.38},{"c":"AUC at 3 years: 0.636","x":0.18,"y":0.39},
  {"c":"AUC at 3 years: 0.636","x":0.2,"y":0.39},{"c":"AUC at 3 years: 0.636","x":0.23,"y":0.4},{"c":"AUC at 3 years: 0.636","x":0.24,"y":0.41},{"c":"AUC at 3 years: 0.636","x":0.25,"y":0.43},{"c":"AUC at 3 years: 0.636","x":0.27,"y":0.45},{"c":"AUC at 3 years: 0.636","x":0.28,"y":0.47},{"c":"AUC at 3 years: 0.636","x":0.3,"y":0.48},{"c":"AUC at 3 years: 0.636","x":0.33,"y":0.51},
  {"c":"AUC at 3 years: 0.636","x":0.35,"y":0.53},{"c":"AUC at 3 years: 0.636","x":0.37,"y":0.545},{"c":"AUC at 3 years: 0.636","x":0.39,"y":0.57},{"c":"AUC at 3 years: 0.636","x":0.4,"y":0.6},{"c":"AUC at 3 years: 0.636","x":0.45,"y":0.6},{"c":"AUC at 3 years: 0.636","x":0.48,"y":0.616},{"c":"AUC at 3 years: 0.636","x":0.5,"y":0.63},{"c":"AUC at 3 years: 0.636","x":0.52,"y":0.65},
  {"c":"AUC at 3 years: 0.636","x":0.55,"y":0.66},{"c":"AUC at 3 years: 0.636","x":0.57,"y":0.68},{"c":"AUC at 3 years: 0.636","x":0.59,"y":0.7},{"c":"AUC at 3 years: 0.636","x":0.62,"y":0.73},{"c":"AUC at 3 years: 0.636","x":0.64,"y":0.74},{"c":"AUC at 3 years: 0.636","x":0.67,"y":0.76},{"c":"AUC at 3 years: 0.636","x":0.68,"y":0.78},{"c":"AUC at 3 years: 0.636","x":0.69,"y":0.81},
  {"c":"AUC at 3 years: 0.636","x":0.71,"y":0.83},{"c":"AUC at 3 years: 0.636","x":0.73,"y":0.85},{"c":"AUC at 3 years: 0.636","x":0.77,"y":0.87},{"c":"AUC at 3 years: 0.636","x":0.82,"y":0.87},{"c":"AUC at 3 years: 0.636","x":0.85,"y":0.88},{"c":"AUC at 3 years: 0.636","x":0.9,"y":0.9},{"c":"AUC at 3 years: 0.636","x":0.93,"y":0.9},{"c":"AUC at 3 years: 0.636","x":0.94,"y":0.93},
  {"c":"AUC at 3 years: 0.636","x":0.955,"y":0.96},{"c":"AUC at 3 years: 0.636","x":0.97,"y":0.985},{"c":"AUC at 3 years: 0.636","x":0.985,"y":0.99},{"c":"AUC at 3 years: 0.636","x":1,"y":1},
  {"c":"AUC at 5 years: 0.659","x":0,"y":0},{"c":"AUC at 5 years: 0.659","x":0.002,"y":0.07},{"c":"AUC at 5 years: 0.659","x":0.01,"y":0.1},{"c":"AUC at 5 years: 0.659","x":0.02,"y":0.12},{"c":"AUC at 5 years: 0.659","x":0.03,"y":0.16},{"c":"AUC at 5 years: 0.659","x":0.04,"y":0.22},{"c":"AUC at 5 years: 0.659","x":0.05,"y":0.24},{"c":"AUC at 5 years: 0.659","x":0.07,"y":0.25},
  {"c":"AUC at 5 years: 0.659","x":0.08,"y":0.3},{"c":"AUC at 5 years: 0.659","x":0.085,"y":0.34},{"c":"AUC at 5 years: 0.659","x":0.1,"y":0.35},{"c":"AUC at 5 years: 0.659","x":0.13,"y":0.36},{"c":"AUC at 5 years: 0.659","x":0.14,"y":0.38},{"c":"AUC at 5 years: 0.659","x":0.2,"y":0.38},{"c":"AUC at 5 years: 0.659","x":0.21,"y":0.39},{"c":"AUC at 5 years: 0.659","x":0.235,"y":0.4},
  {"c":"AUC at 5 years: 0.659","x":0.24,"y":0.43},{"c":"AUC at 5 years: 0.659","x":0.255,"y":0.46},{"c":"AUC at 5 years: 0.659","x":0.265,"y":0.47},{"c":"AUC at 5 years: 0.659","x":0.275,"y":0.5},{"c":"AUC at 5 years: 0.659","x":0.28,"y":0.53},{"c":"AUC at 5 years: 0.659","x":0.3,"y":0.56},{"c":"AUC at 5 years: 0.659","x":0.315,"y":0.575},{"c":"AUC at 5 years: 0.659","x":0.326,"y":0.6},
  {"c":"AUC at 5 years: 0.659","x":0.35,"y":0.61},{"c":"AUC at 5 years: 0.659","x":0.38,"y":0.62},{"c":"AUC at 5 years: 0.659","x":0.415,"y":0.646},{"c":"AUC at 5 years: 0.659","x":0.45,"y":0.66},{"c":"AUC at 5 years: 0.659","x":0.48,"y":0.68},{"c":"AUC at 5 years: 0.659","x":0.504,"y":0.694},{"c":"AUC at 5 years: 0.659","x":0.54,"y":0.71},{"c":"AUC at 5 years: 0.659","x":0.56,"y":0.742},
  {"c":"AUC at 5 years: 0.659","x":0.582,"y":0.778},{"c":"AUC at 5 years: 0.659","x":0.66,"y":0.796},{"c":"AUC at 5 years: 0.659","x":0.671,"y":0.838},{"c":"AUC at 5 years: 0.659","x":0.693,"y":0.88},{"c":"AUC at 5 years: 0.659","x":0.794,"y":0.892},{"c":"AUC at 5 years: 0.659","x":0.838,"y":0.922},{"c":"AUC at 5 years: 0.659","x":0.916,"y":0.928},{"c":"AUC at 5 years: 0.659","x":0.928,"y":0.958},
  {"c":"AUC at 5 years: 0.659","x":0.961,"y":0.988},{"c":"AUC at 5 years: 0.659","x":0.98,"y":0.995},{"c":"AUC at 5 years: 0.659","x":1,"y":1}
 ]
},
"columns":2,
"spacing":{"row":0,"column":77},
"bounds":"flush",
"align":"each",
"resolve":{"scale":{"color":"independent","fill":"independent","stroke":"independent","strokeDash":"independent"},"legend":{"color":"independent","fill":"independent","stroke":"independent","strokeDash":"independent"}},
"concat":[
 {"width":259,"height":100,
  "title":{"text":"A","anchor":"start","frame":"group","fontSize":18,"fontWeight":"bold","dx":-33,"dy":18,"offset":-15,"baseline":"alphabetic"},
  "layer":[
   {"data":{"name":"riskA"},"mark":{"type":"circle","size":28,"opacity":1},
    "encoding":{
     "x":{"field":"r","type":"quantitative","scale":{"domain":[-1.72,80.5],"nice":false,"zero":false},"axis":null},
     "y":{"field":"s","type":"quantitative","scale":{"domain":[-2.85,3.15],"nice":false,"zero":false},"axis":{"title":"Risk Score","values":[-2,-1,0,1,2,3],"offset":-7,"tickSize":3,"labelFontSize":10,"titleFontSize":11,"labelPadding":2,"titlePadding":5,"tickColor":"black"}},
     "color":{"field":"g","type":"nominal","scale":{"domain":["Low","High"],"range":["#1F4A9C","#E8212B"]},"legend":{"title":"Risk Group","orient":"none","legendX":271,"legendY":29,"symbolSize":45,"symbolOffset":3,"rowPadding":4,"labelOffset":7,"titleFontSize":11,"labelFontSize":10.5,"titlePadding":5}}}},
   {"data":{"values":[{"c":40.5}]},"mark":{"type":"rule","color":"black","strokeWidth":3,"strokeDash":[3,9]},"encoding":{"x":{"field":"c","type":"quantitative"}}},
   {"data":{"values":[{"c":40.5,"y":-1.53,"t":"cutoff: −0.19"}]},"mark":{"type":"text","align":"right","baseline":"middle","dx":-13,"fontSize":11,"color":"black"},"encoding":{"x":{"field":"c","type":"quantitative"},"y":{"field":"y","type":"quantitative"},"text":{"field":"t"}}}
  ]},
 {"width":278,"height":100,
  "title":{"text":"B","anchor":"start","frame":"group","fontSize":18,"fontWeight":"bold","dx":-47,"dy":18,"offset":-15,"baseline":"alphabetic"},
  "layer":[
   {"data":{"name":"riskB"},"mark":{"type":"circle","size":28,"opacity":1},
    "encoding":{
     "x":{"field":"r","type":"quantitative","scale":{"domain":[0.5,80.5],"nice":false,"zero":false},"axis":null},
     "y":{"field":"s","type":"quantitative","scale":{"domain":[-10,137],"nice":false,"zero":false},"axis":{"title":"Risk Score","values":[0,50,100],"tickSize":3,"labelFontSize":10,"titleFontSize":11,"labelPadding":2,"titlePadding":5,"tickColor":"black"}},
     "color":{"field":"g","type":"nominal","scale":{"domain":["Low","High"],"range":["#1F4A9C","#E8212B"]},"legend":{"title":"Risk Group","orient":"none","legendX":290,"legendY":29,"symbolSize":45,"symbolOffset":3,"rowPadding":4,"labelOffset":7,"titleFontSize":11,"labelFontSize":10.5,"titlePadding":5}}}},
   {"data":{"values":[{"c":40.5}]},"mark":{"type":"rule","color":"black","strokeWidth":3,"strokeDash":[3,9]},"encoding":{"x":{"field":"c","type":"quantitative"}}},
   {"data":{"values":[{"c":40.5,"y":63.5,"t":"cutoff: 30.46"}]},"mark":{"type":"text","align":"left","baseline":"middle","dx":8,"fontSize":11,"color":"black"},"encoding":{"x":{"field":"c","type":"quantitative"},"y":{"field":"y","type":"quantitative"},"text":{"field":"t"}}}
  ]},
 {"width":1,"height":11,"data":{"values":[]},"mark":"point"},
 {"width":1,"height":11,"data":{"values":[]},"mark":"point"},
 {"width":259,"height":99,
  "layer":[
   {"data":{"name":"survA"},"mark":{"type":"circle","size":28,"opacity":1},
    "encoding":{
     "x":{"field":"r","type":"quantitative","scale":{"domain":[-1.72,80.5],"nice":false,"zero":false},"axis":null},
     "y":{"field":"t","type":"quantitative","scale":{"domain":[-8,225],"nice":false,"zero":false},"axis":{"title":"Survival Time (mouth)","values":[0,50,100,150,200],"offset":-7,"tickSize":3,"labelFontSize":10,"titleFontSize":11,"labelPadding":2,"titlePadding":5,"tickColor":"black"}},
     "color":{"field":"s","type":"nominal","scale":{"domain":["Alive","Dead"],"range":["#1F4A9C","#E8212B"]},"legend":{"title":"Status","orient":"none","legendX":271,"legendY":28,"symbolSize":45,"symbolOffset":3,"rowPadding":4,"labelOffset":7,"titleFontSize":11,"labelFontSize":10.5,"titlePadding":5}}}},
   {"data":{"values":[{"c":40.5}]},"mark":{"type":"rule","color":"black","strokeWidth":3,"strokeDash":[3,9]},"encoding":{"x":{"field":"c","type":"quantitative"}}}
  ]},
 {"width":278,"height":99,
  "layer":[
   {"data":{"name":"survB"},"mark":{"type":"circle","size":28,"opacity":1},
    "encoding":{
     "x":{"field":"r","type":"quantitative","scale":{"domain":[0.5,80.5],"nice":false,"zero":false},"axis":null},
     "y":{"field":"t","type":"quantitative","scale":{"domain":[-6,175],"nice":false,"zero":false},"axis":{"title":"Survival Time","values":[0,50,100,150],"tickSize":3,"labelFontSize":10,"titleFontSize":11,"labelPadding":2,"titlePadding":5,"tickColor":"black"}},
     "color":{"field":"s","type":"nominal","scale":{"domain":["Alive","Dead"],"range":["#1F4A9C","#E8212B"]},"legend":{"title":"Status","orient":"none","legendX":290,"legendY":28,"symbolSize":45,"symbolOffset":3,"rowPadding":4,"labelOffset":7,"titleFontSize":11,"labelFontSize":10.5,"titlePadding":5}}}},
   {"data":{"values":[{"c":40.5}]},"mark":{"type":"rule","color":"black","strokeWidth":3,"strokeDash":[3,9]},"encoding":{"x":{"field":"c","type":"quantitative"}}}
  ]},
 {"width":1,"height":11,"data":{"values":[]},"mark":"point"},
 {"width":1,"height":11,"data":{"values":[]},"mark":"point"},
 {"width":259,"height":10,"data":{"name":"heatA"},"mark":{"type":"rect"},
  "encoding":{
   "x":{"field":"i","type":"ordinal","scale":{"range":[8,257],"paddingInner":0,"paddingOuter":0},"axis":null},
   "fill":{"field":"g","type":"nominal","scale":{"domain":["Low","High"],"range":["#1F4A9C","#E8212B"]},"legend":{"title":"Risk Group","orient":"none","legendX":272,"legendY":9,"symbolType":"square","symbolSize":169,"symbolStrokeWidth":0,"rowPadding":0,"titlePadding":3,"labelOffset":6,"titleFontSize":11,"labelFontSize":10.5}}}},
 {"width":278,"height":10,"data":{"name":"heatB"},"mark":{"type":"rect"},
  "encoding":{
   "x":{"field":"i","type":"ordinal","scale":{"range":[2,275],"paddingInner":0,"paddingOuter":0},"axis":null},
   "fill":{"field":"g","type":"nominal","scale":{"domain":["Low","High"],"range":["#1F4A9C","#E8212B"]},"legend":{"title":"Risk Group","orient":"none","legendX":290,"legendY":9,"symbolType":"square","symbolSize":169,"symbolStrokeWidth":0,"rowPadding":0,"titlePadding":3,"labelOffset":6,"titleFontSize":11,"labelFontSize":10.5}}}},
 {"width":1,"height":1,"data":{"values":[]},"mark":"point"},
 {"width":1,"height":1,"data":{"values":[]},"mark":"point"},
 {"width":259,"height":147,"data":{"name":"heatA"},
  "transform":[{"fold":["PRKACA","PLCG1","IL6","IL18","GSDMC","CASP9","CASP8","CASP4","CASP3"],"as":["gene","v"]}],
  "mark":{"type":"rect"},
  "encoding":{
   "x":{"field":"i","type":"ordinal","scale":{"range":[8,257],"paddingInner":0,"paddingOuter":0},"axis":null},
   "y":{"field":"gene","type":"nominal","sort":["PRKACA","PLCG1","IL6","IL18","GSDMC","CASP9","CASP8","CASP4","CASP3"],"scale":{"paddingInner":0,"paddingOuter":0},"axis":{"title":null,"ticks":false,"domain":false,"labelPadding":0,"labelFontSize":10,"labelColor":"black"}},
   "fill":{"field":"v","type":"quantitative","scale":{"domain":[-4.4,0,4.4],"range":["#2B3C98","#FFFFFF","#EF5B36"],"interpolate":"lab"},"legend":{"title":"Expression","orient":"none","legendX":272,"legendY":57,"gradientLength":64,"gradientThickness":14,"values":[-2.5,0,2.5],"format":".1f","titleFontSize":11,"labelFontSize":10.5,"labelOffset":4,"titlePadding":6,"gradientStrokeWidth":0}}}},
 {"width":278,"height":147,"data":{"name":"heatB"},
  "transform":[{"fold":["PRKACA","PLCG1","IL6","IL18","GSDMC","CASP9","CASP8","CASP4","CASP3"],"as":["gene","v"]}],
  "mark":{"type":"rect"},
  "encoding":{
   "x":{"field":"i","type":"ordinal","scale":{"range":[2,275],"paddingInner":0,"paddingOuter":0},"axis":null},
   "y":{"field":"gene","type":"nominal","sort":["PRKACA","PLCG1","IL6","IL18","GSDMC","CASP9","CASP8","CASP4","CASP3"],"scale":{"paddingInner":0,"paddingOuter":0},"axis":{"title":null,"ticks":false,"domain":false,"labelPadding":4,"labelFontSize":10,"labelColor":"black"}},
   "fill":{"field":"v","type":"quantitative","scale":{"domain":[-0.8,1,17],"range":["#E7E5EE","#FCF5F4","#E8231E"]},"legend":{"title":"Expression","orient":"none","legendX":290,"legendY":57,"gradientLength":64,"gradientThickness":14,"values":[0,5,10,15],"format":"d","titleFontSize":11,"labelFontSize":10.5,"labelOffset":4,"titlePadding":6,"gradientStrokeWidth":0}}}},
 {"width":1,"height":46,"data":{"values":[]},"mark":"point"},
 {"width":1,"height":46,"data":{"values":[]},"mark":"point"},
 {"width":323,"height":228,"view":{"stroke":"#7F7F7F","strokeWidth":1},
  "title":{"text":"C","anchor":"start","frame":"group","fontSize":18,"fontWeight":"bold","dx":-33,"dy":20,"offset":11,"baseline":"alphabetic"},
  "layer":[
   {"data":{"name":"bandC"},"mark":{"type":"area","interpolate":"step-after","opacity":0.5},
    "encoding":{
     "x":{"field":"t","type":"quantitative","scale":{"domain":[-10,209.5],"nice":false,"zero":false},"axis":{"values":[0,50,100,150,200],"title":"Time(mouths)","grid":true,"gridColor":"#EBEBEB","domain":false,"tickSize":3,"labelFontSize":9,"labelPadding":1,"titleFontSize":11,"titlePadding":1}},
     "y":{"field":"lo","type":"quantitative","scale":{"domain":[-0.05,1.05],"nice":false,"zero":false},"axis":{"values":[0,0.25,0.5,0.75,1],"format":".2f","title":"Survival probability","grid":true,"gridColor":"#EBEBEB","domain":false,"tickSize":3,"labelFontSize":9,"labelPadding":1,"titleFontSize":11,"titlePadding":4}},
     "y2":{"field":"hi"},
     "fill":{"field":"k","type":"nominal","scale":{"range":["#D37D55","#A1C5E9"]},"legend":null}}},
   {"data":{"name":"kmC"},"mark":{"type":"line","interpolate":"step-after","strokeWidth":1.6},
    "encoding":{
     "x":{"field":"t","type":"quantitative"},
     "y":{"field":"p","type":"quantitative"},
     "color":{"field":"k","type":"nominal","scale":{"domain":["Risk=high","Risk=low"],"range":["#C0262D","#5B9BD5"]},"legend":{"title":"Strata","orient":"none","legendX":69,"legendY":-19,"direction":"horizontal","titleOrient":"left","symbolType":"stroke","symbolSize":240,"symbolStrokeWidth":3,"titleFontSize":11,"labelFontSize":11,"labelOffset":5,"columnPadding":6,"titlePadding":4}},
     "strokeDash":{"field":"k","type":"nominal","scale":{"domain":["Risk=high","Risk=low"],"range":[[1,0],[4,2]]},"legend":{"title":"Strata","orient":"none","legendX":69,"legendY":-19,"direction":"horizontal","titleOrient":"left","symbolType":"stroke","symbolSize":240,"symbolStrokeWidth":3,"titleFontSize":11,"labelFontSize":11,"labelOffset":5,"columnPadding":6,"titlePadding":4}}}},
   {"data":{"name":"medC"},"mark":{"type":"rule","strokeDash":[4,3],"color":"#333333","strokeWidth":1.1},
    "encoding":{"x":{"field":"x1","type":"quantitative"},"x2":{"field":"x2"},"y":{"field":"y1","type":"quantitative"},"y2":{"field":"y2"}}},
   {"data":{"values":[{"x":22,"y":0.2,"t":"p=1.11e−16"}]},"mark":{"type":"text","fontSize":10,"color":"black"},
    "encoding":{"x":{"field":"x","type":"quantitative"},"y":{"field":"y","type":"quantitative"},"text":{"field":"t"}}}
  ]},
 {"width":314,"height":228,"view":{"stroke":"#7F7F7F","strokeWidth":1},
  "title":{"text":"D","anchor":"start","frame":"group","fontSize":18,"fontWeight":"bold","dx":-48,"dy":20,"offset":11,"baseline":"alphabetic"},
  "layer":[
   {"data":{"name":"bandD"},"mark":{"type":"area","interpolate":"step-after","opacity":0.5},
    "encoding":{
     "x":{"field":"t","type":"quantitative","scale":{"domain":[-8.4,167.5],"nice":false,"zero":false},"axis":{"values":[0,40,80,120,160],"title":"Time(mouths)","grid":true,"gridColor":"#EBEBEB","domain":false,"tickSize":3,"labelFontSize":9,"labelPadding":1,"titleFontSize":11,"titlePadding":1}},
     "y":{"field":"lo","type":"quantitative","scale":{"domain":[-0.05,1.05],"nice":false,"zero":false},"axis":{"values":[0,0.25,0.5,0.75,1],"format":".2f","title":"Survival probability","grid":true,"gridColor":"#EBEBEB","domain":false,"tickSize":3,"labelFontSize":9,"labelPadding":1,"titleFontSize":11,"titlePadding":4}},
     "y2":{"field":"hi"},
     "fill":{"field":"k","type":"nominal","scale":{"range":["#D37D55","#A1C5E9"]},"legend":null}}},
   {"data":{"name":"kmD"},"mark":{"type":"line","interpolate":"step-after","strokeWidth":1.6},
    "encoding":{
     "x":{"field":"t","type":"quantitative"},
     "y":{"field":"p","type":"quantitative"},
     "color":{"field":"k","type":"nominal","scale":{"domain":["Risk=high","Risk=low"],"range":["#C0262D","#5B9BD5"]},"legend":{"title":"Strata","orient":"none","legendX":74,"legendY":-19,"direction":"horizontal","titleOrient":"left","symbolType":"stroke","symbolSize":240,"symbolStrokeWidth":3,"titleFontSize":11,"labelFontSize":11,"labelOffset":5,"columnPadding":6,"titlePadding":4}},
     "strokeDash":{"field":"k","type":"nominal","scale":{"domain":["Risk=high","Risk=low"],"range":[[1,0],[4,2]]},"legend":{"title":"Strata","orient":"none","legendX":74,"legendY":-19,"direction":"horizontal","titleOrient":"left","symbolType":"stroke","symbolSize":240,"symbolStrokeWidth":3,"titleFontSize":11,"labelFontSize":11,"labelOffset":5,"columnPadding":6,"titlePadding":4}}}},
   {"data":{"name":"medD"},"mark":{"type":"rule","strokeDash":[4,3],"color":"#333333","strokeWidth":1.1},
    "encoding":{"x":{"field":"x1","type":"quantitative"},"x2":{"field":"x2"},"y":{"field":"y1","type":"quantitative"},"y2":{"field":"y2"}}},
   {"data":{"values":[{"x":29,"y":0.2,"t":"p=4.921e−06"}]},"mark":{"type":"text","fontSize":10,"color":"black"},
    "encoding":{"x":{"field":"x","type":"quantitative"},"y":{"field":"y","type":"quantitative"},"text":{"field":"t"}}}
  ]},
 {"width":1,"height":28,"data":{"values":[]},"mark":"point"},
 {"width":1,"height":28,"data":{"values":[]},"mark":"point"},
 {"width":323,"height":61,"view":{"stroke":"#7F7F7F","strokeWidth":1},
  "title":{"text":"Number at risk","anchor":"start","frame":"group","fontSize":6.5,"fontWeight":"normal","offset":3,"dy":1},
  "data":{"name":"tabC"},
  "mark":{"type":"text","fontSize":8.5},
  "encoding":{
   "x":{"field":"t","type":"quantitative","scale":{"domain":[-10,209.5],"nice":false,"zero":false},"axis":{"values":[0,50,100,150,200],"title":"Time(mouths)","grid":true,"gridColor":"#EBEBEB","domain":false,"tickSize":3,"labelFontSize":9,"labelPadding":1,"titleFontSize":11,"titlePadding":1}},
   "y":{"field":"g","type":"ordinal","scale":{"type":"point","domain":["High","Low"],"padding":0.59},"axis":{"title":"Strata","grid":true,"gridColor":"#EBEBEB","domain":false,"tickSize":3,"labelFontSize":9.5,"labelPadding":1,"titleFontSize":11,"titlePadding":4,"labelColor":{"condition":{"test":"datum.value === 'High'","value":"#D0343A"},"value":"#7FB0DD"}}},
   "text":{"field":"n"},
   "color":{"field":"g","type":"nominal","scale":{"domain":["High","Low"],"range":["#D0343A","#7FB0DD"]},"legend":null}}},
 {"width":314,"height":61,"view":{"stroke":"#7F7F7F","strokeWidth":1},
  "title":{"text":"Number at risk","anchor":"start","frame":"group","fontSize":6.5,"fontWeight":"normal","offset":3,"dy":1},
  "data":{"name":"tabD"},
  "mark":{"type":"text","fontSize":8.5},
  "encoding":{
   "x":{"field":"t","type":"quantitative","scale":{"domain":[-8.4,167.5],"nice":false,"zero":false},"axis":{"values":[0,40,80,120,160],"title":"Time(mouths)","grid":true,"gridColor":"#EBEBEB","domain":false,"tickSize":3,"labelFontSize":9,"labelPadding":1,"titleFontSize":11,"titlePadding":1}},
   "y":{"field":"g","type":"ordinal","scale":{"type":"point","domain":["High","Low"],"padding":0.59},"axis":{"title":"Strata","grid":true,"gridColor":"#EBEBEB","domain":false,"tickSize":3,"labelFontSize":9.5,"labelPadding":1,"titleFontSize":11,"titlePadding":4,"labelColor":{"condition":{"test":"datum.value === 'High'","value":"#D0343A"},"value":"#7FB0DD"}}},
   "text":{"field":"n"},
   "color":{"field":"g","type":"nominal","scale":{"domain":["High","Low"],"range":["#D0343A","#7FB0DD"]},"legend":null}}},
 {"width":1,"height":49,"data":{"values":[]},"mark":"point"},
 {"width":1,"height":49,"data":{"values":[]},"mark":"point"},
 {"width":324,"height":301,"view":{"stroke":"black","strokeWidth":1},
  "title":{"text":"E","anchor":"start","frame":"group","fontSize":18,"fontWeight":"bold","dx":-33,"dy":22,"offset":7,"baseline":"alphabetic"},
  "layer":[
   {"data":{"values":[{"x":-0.06,"y":-0.06},{"x":1.06,"y":1.06}]},"mark":{"type":"line","clip":true,"color":"#333333","strokeWidth":0.8,"strokeDash":[2,2.5]},
    "encoding":{
     "x":{"field":"x","type":"quantitative","scale":{"domain":[-0.047,1.04],"nice":false,"zero":false},"axis":{"values":[0,0.2,0.4,0.6,0.8,1],"format":".1f","title":"Specificity","domain":false,"tickSize":6,"tickColor":"black","labelColor":"black","labelFontSize":11,"labelPadding":1,"titleFontSize":11,"titlePadding":3}},
     "y":{"field":"y","type":"quantitative","scale":{"domain":[-0.04,1.043],"nice":false,"zero":false},"axis":{"values":[0,0.2,0.4,0.6,0.8,1],"format":".1f","title":"Sensitivity","labelAngle":-90,"domain":false,"tickSize":6,"tickColor":"black","labelColor":"black","labelFontSize":11,"labelPadding":2,"titleFontSize":11,"titlePadding":6}}}},
   {"data":{"name":"rocE"},"mark":{"type":"line","strokeWidth":1.3,"clip":true},
    "encoding":{
     "x":{"field":"x","type":"quantitative"},
     "y":{"field":"y","type":"quantitative"},
     "order":{"value":null},
     "color":{"field":"c","type":"nominal","scale":{"domain":["AUC at 1 years: 0.856","AUC at 3 years: 0.832","AUC at 5 years: 0.742"],"range":["#6CBE45","#1F4A9C","#E8212B"]},"legend":{"title":null,"orient":"bottom-right","offset":5,"symbolType":"stroke","symbolSize":300,"symbolStrokeWidth":2,"labelFontSize":9,"labelOffset":7,"rowPadding":1.5,"labelColor":"#222222"}}}}
  ]},
 {"width":321,"height":301,"view":{"stroke":"black","strokeWidth":1},
  "title":{"text":"F","anchor":"start","frame":"group","fontSize":18,"fontWeight":"bold","dx":-47,"dy":22,"offset":7,"baseline":"alphabetic"},
  "layer":[
   {"data":{"values":[{"x":-0.06,"y":-0.06},{"x":1.06,"y":1.06}]},"mark":{"type":"line","clip":true,"color":"#333333","strokeWidth":0.8,"strokeDash":[2,2.5]},
    "encoding":{
     "x":{"field":"x","type":"quantitative","scale":{"domain":[-0.037,1.037],"nice":false,"zero":false},"axis":{"values":[0,0.2,0.4,0.6,0.8,1],"format":".1f","title":"Specificity","domain":false,"tickSize":6,"tickColor":"black","labelColor":"black","labelFontSize":11,"labelPadding":1,"titleFontSize":11,"titlePadding":3}},
     "y":{"field":"y","type":"quantitative","scale":{"domain":[-0.04,1.043],"nice":false,"zero":false},"axis":{"values":[0,0.2,0.4,0.6,0.8,1],"format":".1f","title":"Sensitivity","labelAngle":-90,"domain":false,"tickSize":6,"tickColor":"black","labelColor":"black","labelFontSize":11,"labelPadding":2,"titleFontSize":11,"titlePadding":6}}}},
   {"data":{"name":"rocF"},"mark":{"type":"line","strokeWidth":1.3,"clip":true},
    "encoding":{
     "x":{"field":"x","type":"quantitative"},
     "y":{"field":"y","type":"quantitative"},
     "order":{"value":null},
     "color":{"field":"c","type":"nominal","scale":{"domain":["AUC at 1 years: 0.596","AUC at 3 years: 0.636","AUC at 5 years: 0.659"],"range":["#6CBE45","#1F4A9C","#E8212B"]},"legend":{"title":null,"orient":"bottom-right","offset":5,"symbolType":"stroke","symbolSize":300,"symbolStrokeWidth":2,"labelFontSize":9,"labelOffset":7,"rowPadding":1.5,"labelColor":"#222222"}}}}
  ]}
]
}
